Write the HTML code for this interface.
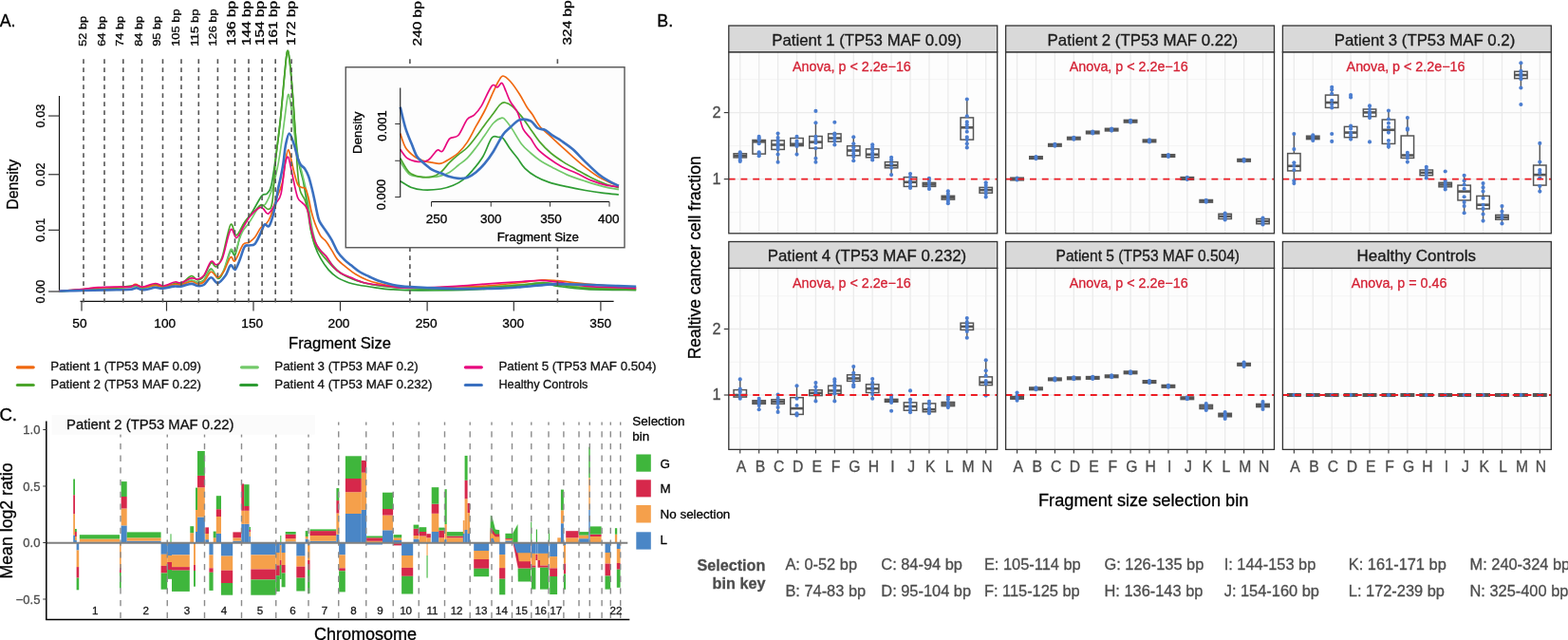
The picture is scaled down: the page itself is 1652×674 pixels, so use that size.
<!DOCTYPE html>
<html><head><meta charset="utf-8"><title>Figure</title>
<style>
html,body{margin:0;padding:0;background:#fff;}
svg{display:block;}
text{font-family:'Liberation Sans', Arial, Helvetica, sans-serif;}
</style></head><body>
<svg width="1652" height="674" viewBox="0 0 1652 674">
<rect x="0" y="0" width="1652" height="674" fill="#fff"/>
<text x="-0.3" y="27.6" font-size="17.8" stroke="#000" stroke-width="0.3">A.</text>
<text transform="translate(91 48.8) rotate(-90)" font-size="11.8" font-family="'DejaVu Sans', Verdana, sans-serif" stroke="#000" stroke-width="0.3" textLength="31.9" lengthAdjust="spacingAndGlyphs">52 bp</text>
<text transform="translate(110.6 48.8) rotate(-90)" font-size="11.8" font-family="'DejaVu Sans', Verdana, sans-serif" stroke="#000" stroke-width="0.3" textLength="31.9" lengthAdjust="spacingAndGlyphs">64 bp</text>
<text transform="translate(129.75 48.8) rotate(-90)" font-size="11.8" font-family="'DejaVu Sans', Verdana, sans-serif" stroke="#000" stroke-width="0.3" textLength="31.9" lengthAdjust="spacingAndGlyphs">74 bp</text>
<text transform="translate(149.8 48.8) rotate(-90)" font-size="11.8" font-family="'DejaVu Sans', Verdana, sans-serif" stroke="#000" stroke-width="0.3" textLength="31.9" lengthAdjust="spacingAndGlyphs">84 bp</text>
<text transform="translate(169.4 48.8) rotate(-90)" font-size="11.8" font-family="'DejaVu Sans', Verdana, sans-serif" stroke="#000" stroke-width="0.3" textLength="31.9" lengthAdjust="spacingAndGlyphs">95 bp</text>
<text transform="translate(188.9 48.8) rotate(-90)" font-size="11.8" font-family="'DejaVu Sans', Verdana, sans-serif" stroke="#000" stroke-width="0.3" textLength="39.4" lengthAdjust="spacingAndGlyphs">105 bp</text>
<text transform="translate(208.8 48.8) rotate(-90)" font-size="11.8" font-family="'DejaVu Sans', Verdana, sans-serif" stroke="#000" stroke-width="0.3" textLength="39.4" lengthAdjust="spacingAndGlyphs">115 bp</text>
<text transform="translate(228.4 48.6) rotate(-90)" font-size="11.8" font-family="'DejaVu Sans', Verdana, sans-serif" stroke="#000" stroke-width="0.3" textLength="39.2" lengthAdjust="spacingAndGlyphs">126 bp</text>
<text transform="translate(248 48.1) rotate(-90)" font-size="12.3" font-family="'DejaVu Sans', Verdana, sans-serif" stroke="#000" stroke-width="0.3" textLength="47.2" lengthAdjust="spacingAndGlyphs">136 bp</text>
<text transform="translate(264.4 48.1) rotate(-90)" font-size="12.3" font-family="'DejaVu Sans', Verdana, sans-serif" stroke="#000" stroke-width="0.3" textLength="47.2" lengthAdjust="spacingAndGlyphs">144 bp</text>
<text transform="translate(278 48.1) rotate(-90)" font-size="12.3" font-family="'DejaVu Sans', Verdana, sans-serif" stroke="#000" stroke-width="0.3" textLength="47.2" lengthAdjust="spacingAndGlyphs">154 bp</text>
<text transform="translate(291.8 48.1) rotate(-90)" font-size="12.3" font-family="'DejaVu Sans', Verdana, sans-serif" stroke="#000" stroke-width="0.3" textLength="47.2" lengthAdjust="spacingAndGlyphs">161 bp</text>
<text transform="translate(311.2 48.1) rotate(-90)" font-size="12.3" font-family="'DejaVu Sans', Verdana, sans-serif" stroke="#000" stroke-width="0.3" textLength="47.2" lengthAdjust="spacingAndGlyphs">172 bp</text>
<text transform="translate(443.6 48.4) rotate(-90)" font-size="12.3" font-family="'DejaVu Sans', Verdana, sans-serif" stroke="#000" stroke-width="0.3" textLength="47.2" lengthAdjust="spacingAndGlyphs">240 bp</text>
<text transform="translate(602.2 47.5) rotate(-90)" font-size="12.3" font-family="'DejaVu Sans', Verdana, sans-serif" stroke="#000" stroke-width="0.3" textLength="47.2" lengthAdjust="spacingAndGlyphs">324 bp</text>
<line x1="62.5" y1="101" x2="62.5" y2="307.6" stroke="#111" stroke-width="1.2" />
<line x1="51" y1="307" x2="62.5" y2="307" stroke="#333" stroke-width="1.2" />
<text transform="translate(47.1 307) rotate(-90)" font-size="12.8" text-anchor="middle" stroke="#000" stroke-width="0.3">0.00</text>
<line x1="51" y1="242.3" x2="62.5" y2="242.3" stroke="#333" stroke-width="1.2" />
<text transform="translate(47.1 242.3) rotate(-90)" font-size="12.8" text-anchor="middle" stroke="#000" stroke-width="0.3">0.01</text>
<line x1="51" y1="183.75" x2="62.5" y2="183.75" stroke="#333" stroke-width="1.2" />
<text transform="translate(47.1 183.75) rotate(-90)" font-size="12.8" text-anchor="middle" stroke="#000" stroke-width="0.3">0.02</text>
<line x1="51" y1="122.05" x2="62.5" y2="122.05" stroke="#333" stroke-width="1.2" />
<text transform="translate(47.1 122.05) rotate(-90)" font-size="12.8" text-anchor="middle" stroke="#000" stroke-width="0.3">0.03</text>
<text transform="translate(19 194.3) rotate(-90)" font-size="15.9" text-anchor="middle" stroke="#000" stroke-width="0.3">Density</text>
<line x1="84.5" y1="317.3" x2="646.6" y2="317.3" stroke="#111" stroke-width="1.2" />
<line x1="86" y1="317.3" x2="86" y2="327.5" stroke="#333" stroke-width="1.2" />
<text x="83.9" y="344.6" font-size="13.7" text-anchor="middle" stroke="#000" stroke-width="0.3">50</text>
<line x1="175.5" y1="317.3" x2="175.5" y2="327.5" stroke="#333" stroke-width="1.2" />
<text x="173.7" y="344.6" font-size="13.7" text-anchor="middle" stroke="#000" stroke-width="0.3">100</text>
<line x1="267" y1="317.3" x2="267" y2="327.5" stroke="#333" stroke-width="1.2" />
<text x="265.7" y="344.6" font-size="13.7" text-anchor="middle" stroke="#000" stroke-width="0.3">150</text>
<line x1="358.5" y1="317.3" x2="358.5" y2="327.5" stroke="#333" stroke-width="1.2" />
<text x="357" y="344.6" font-size="13.7" text-anchor="middle" stroke="#000" stroke-width="0.3">200</text>
<line x1="450.1" y1="317.3" x2="450.1" y2="327.5" stroke="#333" stroke-width="1.2" />
<text x="449.1" y="344.6" font-size="13.7" text-anchor="middle" stroke="#000" stroke-width="0.3">250</text>
<line x1="541.3" y1="317.3" x2="541.3" y2="327.5" stroke="#333" stroke-width="1.2" />
<text x="540.7" y="344.6" font-size="13.7" text-anchor="middle" stroke="#000" stroke-width="0.3">300</text>
<line x1="632.9" y1="317.3" x2="632.9" y2="327.5" stroke="#333" stroke-width="1.2" />
<text x="632.7" y="344.6" font-size="13.7" text-anchor="middle" stroke="#000" stroke-width="0.3">350</text>
<text x="304.1" y="366.6" font-size="16.6" stroke="#000" stroke-width="0.3">Fragment Size</text>
<line x1="18.4" y1="386.8" x2="35.2" y2="386.8" stroke="#f0680f" stroke-width="3.2" stroke-linecap="round"/>
<text x="53.25" y="390" font-size="13.35" fill="#111" stroke="#111" stroke-width="0.3">Patient 1 (TP53 MAF 0.09)</text>
<line x1="18.4" y1="405.5" x2="35.2" y2="405.5" stroke="#4ca52c" stroke-width="3.2" stroke-linecap="round"/>
<text x="53.25" y="408.7" font-size="13.35" fill="#111" stroke="#111" stroke-width="0.3">Patient 2 (TP53 MAF 0.22)</text>
<line x1="254.5" y1="386.8" x2="271.3" y2="386.8" stroke="#73c96a" stroke-width="3.2" stroke-linecap="round"/>
<text x="289.3" y="390" font-size="13.35" fill="#111" stroke="#111" stroke-width="0.3">Patient 3 (TP53 MAF 0.2)</text>
<line x1="253.7" y1="405.5" x2="270.5" y2="405.5" stroke="#2e9c33" stroke-width="3.2" stroke-linecap="round"/>
<text x="289.3" y="408.7" font-size="13.35" fill="#111" stroke="#111" stroke-width="0.3">Patient 4 (TP53 MAF 0.232)</text>
<line x1="490.4" y1="386.8" x2="507.3" y2="386.8" stroke="#e8087e" stroke-width="3.2" stroke-linecap="round"/>
<text x="525.4" y="390" font-size="13.35" fill="#111" stroke="#111" stroke-width="0.3">Patient 5 (TP53 MAF 0.504)</text>
<line x1="490.4" y1="405.5" x2="507.3" y2="405.5" stroke="#3a70c0" stroke-width="3.2" stroke-linecap="round"/>
<text x="525.4" y="408.7" font-size="13.35" fill="#111" stroke="#111" stroke-width="0.3" textLength="94" lengthAdjust="spacingAndGlyphs">Healthy Controls</text>
<path d="M62.5 306.8C66.58 306.58 78.33 305.88 87 305.5C95.67 305.12 105.2 305.17 114.5 304.5C123.8 303.83 136.82 301.67 142.8 301.5C148.78 301.33 146.95 303.67 150.4 303.5C153.85 303.33 159.87 300.67 163.5 300.5C167.13 300.33 168.75 302.67 172.2 302.5C175.65 302.33 181.12 300 184.2 299.5C187.28 299 187.8 300.17 190.7 299.5C193.6 298.83 198.68 295.83 201.6 295.5C204.52 295.17 206.02 297.58 208.2 297.5C210.38 297.42 212.35 297.42 214.7 295C217.05 292.58 219.8 283.27 222.3 283C224.8 282.73 227.43 293.07 229.7 293.4C231.97 293.73 233.7 289.8 235.9 285C238.1 280.2 240.95 267.35 242.9 264.6C244.85 261.85 246.05 270.7 247.6 268.5C249.15 266.3 250.77 256.65 252.2 251.4C253.63 246.15 253.97 241.65 256.2 237C258.43 232.35 262.35 228.6 265.6 223.5C268.85 218.4 273.1 209.65 275.7 206.4C278.3 203.15 279.52 205.82 281.2 204C282.88 202.18 284.25 201.87 285.8 195.5C287.35 189.13 288.93 177.02 290.5 165.8C292.07 154.58 293.7 142.17 295.2 128.2C296.7 114.23 298.32 94.12 299.5 82C300.68 69.88 301.47 59.33 302.3 55.5C303.13 51.67 303.58 52.92 304.5 59C305.42 65.08 306.68 78.5 307.8 92C308.92 105.5 310.02 126.73 311.2 140C312.38 153.27 313.53 163.18 314.9 171.6C316.27 180.02 318.13 184.4 319.4 190.5C320.67 196.6 321.45 202.52 322.5 208.2C323.55 213.88 324.82 218.68 325.7 224.6C326.58 230.52 326.77 237.93 327.8 243.7C328.83 249.47 330.23 254.45 331.9 259.2C333.57 263.95 335.43 268.05 337.8 272.2C340.17 276.35 343.13 280.73 346.1 284.1C349.07 287.47 352.03 290.13 355.6 292.4C359.17 294.67 363.93 296.43 367.5 297.7C371.07 298.97 372.42 299.15 377 300C381.58 300.85 389.2 302 395 302.8C400.8 303.6 404.3 304.28 411.8 304.8C419.3 305.32 425.3 305.87 440 305.9C454.7 305.93 483 305.75 500 305C517 304.25 529.92 302.47 542 301.4C554.08 300.33 564.87 298.6 572.5 298.6C580.13 298.6 580.17 300.38 587.8 301.4C595.43 302.42 604.57 304 618.3 304.7C632.03 305.4 661.55 305.45 670.2 305.6" fill="none" stroke="#2e9c33" stroke-width="1.7" stroke-linejoin="round"/>
<path d="M62.5 306.8C66.58 306.57 78.33 305.8 87 305.4C95.67 305 105.2 305.1 114.5 304.4C123.8 303.7 136.82 301.38 142.8 301.2C148.78 301.02 146.95 303.43 150.4 303.3C153.85 303.17 159.87 300.57 163.5 300.4C167.13 300.23 168.75 302.48 172.2 302.3C175.65 302.12 181.12 299.77 184.2 299.3C187.28 298.83 187.8 300.22 190.7 299.5C193.6 298.78 198.68 295.28 201.6 295C204.52 294.72 206.02 297.72 208.2 297.8C210.38 297.88 212.35 297.8 214.7 295.5C217.05 293.2 219.8 284.5 222.3 284C224.8 283.5 227.43 292.5 229.7 292.5C231.97 292.5 233.7 288.92 235.9 284C238.1 279.08 240.95 266 242.9 263C244.85 260 246.05 267.83 247.6 266C249.15 264.17 250.8 255.83 252.2 252C253.6 248.17 254.28 245.93 256 243C257.72 240.07 259.6 238.68 262.5 234.4C265.4 230.12 270.55 220.55 273.4 217.3C276.25 214.05 277.27 218.28 279.6 214.9C281.93 211.52 285.18 203.88 287.4 197C289.62 190.12 291.33 181.65 292.9 173.6C294.47 165.55 295.63 156.8 296.8 148.7C297.97 140.6 298.82 133.03 299.9 125C300.98 116.97 302.37 103.83 303.3 100.5C304.23 97.17 304.75 101.63 305.5 105C306.25 108.37 306.57 111.37 307.8 120.7C309.03 130.03 311.18 150.83 312.9 161C314.62 171.17 316.4 174.68 318.1 181.7C319.8 188.72 321.73 195.95 323.1 203.1C324.47 210.25 325.23 217.83 326.3 224.6C327.37 231.37 328.18 237.93 329.5 243.7C330.82 249.47 332.22 255.23 334.2 259.2C336.18 263.17 338.82 264.33 341.4 267.5C343.98 270.67 346.73 274.83 349.7 278.2C352.67 281.57 355.65 285.13 359.2 287.7C362.75 290.27 366.65 291.83 371 293.6C375.35 295.37 380.47 297.07 385.3 298.3C390.13 299.53 392.72 300.1 400 301C407.28 301.9 417.33 303.17 429 303.7C440.67 304.23 456.25 304.45 470 304.2C483.75 303.95 498.22 302.97 511.5 302.2C524.78 301.43 539.53 300.37 549.7 299.6C559.87 298.83 566.15 297.63 572.5 297.6C578.85 297.57 580.17 298.57 587.8 299.4C595.43 300.23 604.57 301.78 618.3 302.6C632.03 303.42 661.55 304.02 670.2 304.3" fill="none" stroke="#73c96a" stroke-width="1.7" stroke-linejoin="round"/>
<path d="M62.5 306.8C66.58 306.53 78.33 305.67 87 305.2C95.67 304.73 105.2 304.78 114.5 304C123.8 303.22 136.82 300.7 142.8 300.5C148.78 300.3 146.95 302.97 150.4 302.8C153.85 302.63 159.87 299.67 163.5 299.5C167.13 299.33 168.75 301.97 172.2 301.8C175.65 301.63 181.12 299 184.2 298.5C187.28 298 187.8 300.1 190.7 298.8C193.6 297.5 198.68 291.33 201.6 290.7C204.52 290.07 206.02 294.95 208.2 295C210.38 295.05 212.35 294 214.7 291C217.05 288 220.12 278.68 222.3 277C224.48 275.32 225.8 282.07 227.8 280.9C229.8 279.73 231.78 277.38 234.3 270C236.82 262.62 240.45 240.27 242.9 236.6C245.35 232.93 246.53 248.43 249 248C251.47 247.57 254.42 238.35 257.7 234C260.98 229.65 265.7 224.95 268.7 221.9C271.7 218.85 273.37 215.95 275.7 215.7C278.03 215.45 280.82 221.02 282.7 220.4C284.58 219.78 285.7 220.73 287 212C288.3 203.27 289.13 181.97 290.5 168C291.87 154.03 293.7 142.53 295.2 128.2C296.7 113.87 298.32 94.12 299.5 82C300.68 69.88 301.47 59.33 302.3 55.5C303.13 51.67 303.58 52.92 304.5 59C305.42 65.08 306.68 78.5 307.8 92C308.92 105.5 310.25 125.33 311.2 140C312.15 154.67 312.67 169.9 313.5 180C314.33 190.1 314.9 195.48 316.2 200.6C317.5 205.72 319.92 206.8 321.3 210.7C322.68 214.6 323.55 219.12 324.5 224C325.45 228.88 325.83 234.58 327 240C328.17 245.42 329.67 252.08 331.5 256.5C333.33 260.92 335.58 263.25 338 266.5C340.42 269.75 343.17 272.92 346 276C348.83 279.08 351.5 282.33 355 285C358.5 287.67 362.33 289.87 367 292C371.67 294.13 377.5 296.3 383 297.8C388.5 299.3 392.33 300.05 400 301C407.67 301.95 417.33 303 429 303.5C440.67 304 456.25 304.17 470 304C483.75 303.83 498.22 303.17 511.5 302.5C524.78 301.83 539.53 300.78 549.7 300C559.87 299.22 566.15 297.83 572.5 297.8C578.85 297.77 580.17 298.87 587.8 299.8C595.43 300.73 604.57 302.57 618.3 303.4C632.03 304.23 661.55 304.57 670.2 304.8" fill="none" stroke="#4ca52c" stroke-width="1.7" stroke-linejoin="round"/>
<path d="M62.5 306.5C64.58 306.33 70.92 305.83 75 305.5C79.08 305.17 82.23 304.88 87 304.5C91.77 304.12 97.57 303.53 103.6 303.2C109.63 302.87 117.75 302.65 123.2 302.5C128.65 302.35 133.03 302.82 136.3 302.3C139.57 301.78 140.45 299.37 142.8 299.4C145.15 299.43 146.95 302.32 150.4 302.5C153.85 302.68 159.87 300.58 163.5 300.5C167.13 300.42 168.75 302.17 172.2 302C175.65 301.83 181.12 299.83 184.2 299.5C187.28 299.17 187.8 300.5 190.7 300C193.6 299.5 198.68 296.67 201.6 296.5C204.52 296.33 206.02 298.92 208.2 299C210.38 299.08 212.35 299.12 214.7 297C217.05 294.88 219.85 287.08 222.3 286.3C224.75 285.52 227.13 292.42 229.4 292.3C231.67 292.18 233.65 289.18 235.9 285.6C238.15 282.02 240.95 272.62 242.9 270.8C244.85 268.98 245.4 276.9 247.6 274.7C249.8 272.5 253.63 260.83 256.1 257.6C258.57 254.37 260.32 256.6 262.4 255.3C264.48 254 266.53 252.4 268.6 249.8C270.67 247.2 272.73 242.17 274.8 239.7C276.87 237.23 279.3 236.95 281 235C282.7 233.05 283.42 232 285 228C286.58 224 288.45 216.83 290.5 211C292.55 205.17 295.55 200.2 297.3 193C299.05 185.8 299.92 173.68 301 167.8C302.08 161.92 302.85 157.7 303.8 157.7C304.75 157.7 305.68 163.8 306.7 167.8C307.72 171.8 308.73 177.28 309.9 181.7C311.07 186.12 312.33 191.68 313.7 194.3C315.07 196.92 316.73 196.67 318.1 197.4C319.47 198.13 320.75 196.9 321.9 198.7C323.05 200.5 323.95 204.1 325 208.2C326.05 212.3 327.05 218.77 328.2 223.3C329.35 227.83 330.3 231.2 331.9 235.4C333.5 239.6 335.83 245.33 337.8 248.5C339.77 251.67 341.72 251.83 343.7 254.4C345.68 256.97 347.72 260.73 349.7 263.9C351.68 267.07 353.03 270.43 355.6 273.4C358.17 276.37 361.93 279.13 365.1 281.7C368.27 284.27 371.03 286.62 374.6 288.8C378.17 290.98 382.55 293.22 386.5 294.8C390.45 296.38 392.65 297.07 398.3 298.3C403.95 299.53 411.78 301.42 420.4 302.2C429.02 302.98 439.9 303.03 450 303C460.1 302.97 470.75 302.33 481 302C491.25 301.67 500.05 301.75 511.5 301C522.95 300.25 539.78 298.53 549.7 297.5C559.62 296.47 564.65 295.1 571 294.8C577.35 294.5 579.92 294.98 587.8 295.7C595.68 296.42 604.57 297.9 618.3 299.1C632.03 300.3 661.55 302.27 670.2 302.9" fill="none" stroke="#f0680f" stroke-width="1.7" stroke-linejoin="round"/>
<path d="M62.5 306.5C66.58 306.18 80.15 305.23 87 304.6C93.85 303.97 97.57 303.12 103.6 302.7C109.63 302.28 117.75 302.2 123.2 302.1C128.65 302 133.03 302.45 136.3 302.1C139.57 301.75 140.45 300 142.8 300C145.15 300 146.95 302.35 150.4 302.1C153.85 301.85 159.87 298.68 163.5 298.5C167.13 298.32 168.75 301.25 172.2 301C175.65 300.75 181.12 297.53 184.2 297C187.28 296.47 187.8 298.48 190.7 297.8C193.6 297.12 198.68 293.53 201.6 292.9C204.52 292.27 206.02 294.45 208.2 294C210.38 293.55 212.35 293.3 214.7 290.2C217.05 287.1 220.12 277.32 222.3 275.4C224.48 273.48 225.8 279.23 227.8 278.7C229.8 278.17 231.78 278.32 234.3 272.2C236.82 266.08 240.43 245.6 242.9 242C245.37 238.4 246.9 250.98 249.1 250.6C251.3 250.22 253.63 243.6 256.1 239.7C258.57 235.8 261.02 230.68 263.9 227.2C266.78 223.72 271.13 220 273.4 218.8C275.67 217.6 275.95 218.95 277.5 220C279.05 221.05 280.53 226.07 282.7 225.1C284.87 224.13 288.28 217.65 290.5 214.2C292.72 210.75 294.35 211.3 296 204.4C297.65 197.5 299.13 179.32 300.4 172.8C301.67 166.28 302.55 164.45 303.6 165.3C304.65 166.15 305.65 173.28 306.7 177.9C307.75 182.52 308.73 187.95 309.9 193C311.07 198.05 312.33 204.83 313.7 208.2C315.07 211.57 316.73 211.73 318.1 213.2C319.47 214.67 320.75 215.1 321.9 217C323.05 218.9 324.13 221.13 325 224.6C325.87 228.07 325.95 232.83 327.1 237.8C328.25 242.77 330.12 250.05 331.9 254.4C333.68 258.75 335.83 261.32 337.8 263.9C339.77 266.48 341.52 267.13 343.7 269.9C345.88 272.67 348.32 277.53 350.9 280.5C353.48 283.47 356.03 285.72 359.2 287.7C362.37 289.68 366.15 290.82 369.9 292.4C373.65 293.98 377.75 296.02 381.7 297.2C385.65 298.38 390.02 298.95 393.6 299.5C397.18 300.05 398.8 299.93 403.2 300.5C407.6 301.07 412.12 302.5 420 302.9C427.88 303.3 440.33 303.15 450.5 302.9C460.67 302.65 470.83 302.03 481 301.4C491.17 300.77 500.05 299.92 511.5 299.1C522.95 298.28 540.03 297.13 549.7 296.5C559.37 295.87 563.15 295.2 569.5 295.3C575.85 295.4 579.67 296.08 587.8 297.1C595.93 298.12 604.57 300.32 618.3 301.4C632.03 302.48 661.55 303.23 670.2 303.6" fill="none" stroke="#e8087e" stroke-width="1.7" stroke-linejoin="round"/>
<path d="M62.5 306.5C66.58 306.42 78.33 306.18 87 306C95.67 305.82 107.38 305.53 114.5 305.4C121.62 305.27 125.62 305.33 129.7 305.2C133.78 305.07 136.63 304.93 139 304.6C141.37 304.27 142.18 303.1 143.9 303.2C145.62 303.3 147.28 304.98 149.3 305.2C151.32 305.42 153.63 304.92 156 304.5C158.37 304.08 160.98 302.82 163.5 302.7C166.02 302.58 167.83 303.98 171.1 303.8C174.37 303.62 179.83 301.97 183.1 301.6C186.37 301.23 187.62 302.05 190.7 301.6C193.78 301.15 198.68 299 201.6 298.9C204.52 298.8 206.02 300.82 208.2 301C210.38 301.18 212.35 301.45 214.7 300C217.05 298.55 219.85 292.62 222.3 292.3C224.75 291.98 226.87 298.43 229.4 298.1C231.93 297.77 235.25 293.42 237.5 290.3C239.75 287.18 241.22 280.45 242.9 279.4C244.58 278.35 246.05 284.78 247.6 284C249.15 283.22 250.52 278.72 252.2 274.7C253.88 270.68 256 262.62 257.7 259.9C259.4 257.18 260.58 258.92 262.4 258.4C264.22 257.88 266.53 259.02 268.6 256.8C270.67 254.58 273.12 248.47 274.8 245.1C276.48 241.73 277.27 237.77 278.7 236.6C280.13 235.43 281.97 239.53 283.4 238.1C284.83 236.67 286.13 232.02 287.3 228C288.47 223.98 289.45 218.83 290.4 214C291.35 209.17 292.07 203.75 293 199C293.93 194.25 295.08 190.07 296 185.5C296.92 180.93 297.67 177.08 298.5 171.6C299.33 166.12 299.95 157.77 301 152.6C302.05 147.43 303.32 140.6 304.8 140.6C306.28 140.6 308.42 148.28 309.9 152.6C311.38 156.92 312.55 163.02 313.7 166.5C314.85 169.98 315.53 171.6 316.8 173.5C318.07 175.4 319.93 175.9 321.3 177.9C322.67 179.9 323.85 182.35 325 185.5C326.15 188.65 327.13 192.6 328.2 196.8C329.27 201 330.45 206.28 331.4 210.7C332.35 215.12 333.03 219.57 333.9 223.3C334.77 227.03 334.97 229.7 336.6 233.1C338.23 236.5 341.52 240.35 343.7 243.7C345.88 247.05 347.72 249.63 349.7 253.2C351.68 256.77 353.43 261.73 355.6 265.1C357.77 268.47 360.32 271.03 362.7 273.4C365.08 275.77 367.13 277.12 369.9 279.3C372.67 281.48 376.15 284.52 379.3 286.5C382.45 288.48 385.63 289.72 388.8 291.2C391.97 292.68 393.38 293.78 398.3 295.4C403.22 297.02 412.65 299.78 418.3 300.9C423.95 302.02 424.28 301.65 432.2 302.1C440.12 302.55 455.12 303.27 465.8 303.6C476.48 303.93 486.13 304.1 496.3 304.1C506.47 304.1 517.9 303.93 526.8 303.6C535.7 303.27 542.08 302.68 549.7 302.1C557.32 301.52 566.15 300.6 572.5 300.1C578.85 299.6 580.17 299.15 587.8 299.1C595.43 299.05 608.13 299.48 618.3 299.8C628.47 300.12 640.15 300.68 648.8 301C657.45 301.32 666.63 301.58 670.2 301.7" fill="none" stroke="#3a70c0" stroke-width="2.6" stroke-linejoin="round"/>
<line x1="88" y1="62.2" x2="88" y2="318.5" stroke="#555" stroke-width="1.6" stroke-dasharray="4.8 4.2"/>
<line x1="110" y1="62.2" x2="110" y2="318.5" stroke="#555" stroke-width="1.6" stroke-dasharray="4.8 4.2"/>
<line x1="129.8" y1="62.2" x2="129.8" y2="318.5" stroke="#555" stroke-width="1.6" stroke-dasharray="4.8 4.2"/>
<line x1="149.6" y1="62.2" x2="149.6" y2="318.5" stroke="#555" stroke-width="1.6" stroke-dasharray="4.8 4.2"/>
<line x1="171.5" y1="62.2" x2="171.5" y2="318.5" stroke="#555" stroke-width="1.6" stroke-dasharray="4.8 4.2"/>
<line x1="191" y1="62.2" x2="191" y2="318.5" stroke="#555" stroke-width="1.6" stroke-dasharray="4.8 4.2"/>
<line x1="209.3" y1="62.2" x2="209.3" y2="318.5" stroke="#555" stroke-width="1.6" stroke-dasharray="4.8 4.2"/>
<line x1="229.4" y1="62.2" x2="229.4" y2="318.5" stroke="#555" stroke-width="1.6" stroke-dasharray="4.8 4.2"/>
<line x1="247.5" y1="62.2" x2="247.5" y2="318.5" stroke="#555" stroke-width="1.6" stroke-dasharray="4.8 4.2"/>
<line x1="262" y1="62.2" x2="262" y2="318.5" stroke="#555" stroke-width="1.6" stroke-dasharray="4.8 4.2"/>
<line x1="276.1" y1="62.2" x2="276.1" y2="318.5" stroke="#555" stroke-width="1.6" stroke-dasharray="4.8 4.2"/>
<line x1="290.2" y1="62.2" x2="290.2" y2="318.5" stroke="#555" stroke-width="1.6" stroke-dasharray="4.8 4.2"/>
<line x1="307.1" y1="62.2" x2="307.1" y2="318.5" stroke="#555" stroke-width="1.6" stroke-dasharray="4.8 4.2"/>
<line x1="431.9" y1="62.2" x2="431.9" y2="318.5" stroke="#555" stroke-width="1.6" stroke-dasharray="4.8 4.2"/>
<line x1="587.4" y1="62.2" x2="587.4" y2="318.5" stroke="#555" stroke-width="1.6" stroke-dasharray="4.8 4.2"/>
<rect x="364.25" y="70.75" width="293.75" height="190" fill="#fdfdfd" stroke="#555" stroke-width="1.4" />
<path d="M421.7 190.7C423.55 191.78 428.78 195.65 432.8 197.2C436.82 198.75 440.53 199.7 445.8 200C451.07 200.3 459.15 199.78 464.4 199C469.65 198.22 473.28 197 477.3 195.3C481.32 193.6 485.1 191.42 488.5 188.8C491.9 186.18 494.3 183.62 497.7 179.6C501.1 175.58 505.5 170.42 508.9 164.7C512.3 158.98 515.42 148.67 518.1 145.3C520.78 141.93 523.02 144.45 525 144.5C526.98 144.55 527.88 143.5 530 145.6C532.12 147.7 535.13 153.57 537.7 157.1C540.27 160.63 542.83 163.42 545.4 166.8C547.97 170.18 549.88 174.18 553.1 177.4C556.32 180.62 560.52 183.68 564.7 186.1C568.88 188.52 572.73 190.13 578.2 191.9C583.67 193.67 591.07 195.27 597.5 196.7C603.93 198.13 610.37 199.38 616.8 200.5C623.23 201.62 630.25 202.65 636.1 203.4C641.95 204.15 649.27 204.73 651.9 205" fill="none" stroke="#2e9c33" stroke-width="1.7" stroke-linejoin="round"/>
<path d="M421.7 170.3C423.25 172.47 427.6 180.67 431 183.3C434.4 185.93 438.08 185.57 442.1 186.1C446.12 186.63 451.38 186.67 455.1 186.5C458.82 186.33 461.32 185.95 464.4 185.1C467.48 184.25 470.52 183.25 473.6 181.4C476.68 179.55 479.8 176.47 482.9 174C486 171.53 489.12 169.68 492.2 166.6C495.28 163.52 498.32 159.52 501.4 155.5C504.48 151.48 507.6 146.83 510.7 142.5C513.8 138.17 516.98 132.55 520 129.5C523.02 126.45 526.63 124.62 528.8 124.2C530.97 123.78 531.2 125.05 533 127C534.8 128.95 536.88 131.83 539.6 135.9C542.32 139.97 546.08 147.22 549.3 151.4C552.52 155.58 555.68 158.12 558.9 161C562.12 163.88 564.73 166.13 568.6 168.7C572.47 171.27 577.28 173.83 582.1 176.4C586.92 178.97 591.72 181.68 597.5 184.1C603.28 186.52 610.37 188.8 616.8 190.9C623.23 193 630.25 195.25 636.1 196.7C641.95 198.15 649.27 199.12 651.9 199.6" fill="none" stroke="#73c96a" stroke-width="1.7" stroke-linejoin="round"/>
<path d="M421.7 166.6C423.25 169.07 427.6 178.15 431 181.4C434.4 184.65 438.08 185.32 442.1 186.1C446.12 186.88 451.38 186.88 455.1 186.1C458.82 185.32 461.32 183.88 464.4 181.4C467.48 178.92 470.52 174.28 473.6 171.2C476.68 168.12 479.8 165.52 482.9 162.9C486 160.28 489.12 158.6 492.2 155.5C495.28 152.4 498.32 148.32 501.4 144.3C504.48 140.28 507.6 135.57 510.7 131.4C513.8 127.23 517.28 122.87 520 119.3C522.72 115.73 525 111.88 527 110C529 108.12 529.9 107.7 532 108C534.1 108.3 536.72 109.4 539.6 111.8C542.48 114.2 546.08 118.38 549.3 122.4C552.52 126.42 555.68 131.4 558.9 135.9C562.12 140.4 565.07 145.22 568.6 149.4C572.13 153.58 575.93 157.47 580.1 161C584.27 164.53 589.1 167.7 593.6 170.6C598.1 173.5 602.27 175.67 607.1 178.4C611.93 181.13 617.45 184.43 622.6 187C627.75 189.57 633.12 192.03 638 193.8C642.88 195.57 649.58 196.97 651.9 197.6" fill="none" stroke="#4ca52c" stroke-width="1.7" stroke-linejoin="round"/>
<path d="M421.7 140.6C422.63 143.08 424.83 151.48 427.3 155.5C429.77 159.52 433.42 162.38 436.5 164.7C439.58 167.02 442.7 168.32 445.8 169.4C448.9 170.48 452 170.73 455.1 171.2C458.2 171.67 461.32 172.82 464.4 172.2C467.48 171.58 470.52 169.37 473.6 167.5C476.68 165.63 479.8 163.93 482.9 161C486 158.07 489.12 154.53 492.2 149.9C495.28 145.27 498.32 138.77 501.4 133.2C504.48 127.63 507.6 122.68 510.7 116.5C513.8 110.32 517.53 101.35 520 96.1C522.47 90.85 523.83 87.68 525.5 85C527.17 82.32 527.97 79.87 530 80C532.03 80.13 534.8 82.58 537.7 85.8C540.6 89.02 544.5 94.8 547.4 99.3C550.3 103.8 552.85 109.27 555.1 112.8C557.35 116.33 558.65 117.13 560.9 120.5C563.15 123.87 565.4 129.15 568.6 133C571.8 136.85 576.25 140.05 580.1 143.6C583.95 147.15 587.83 150.75 591.7 154.3C595.57 157.85 599.12 161.22 603.3 164.9C607.48 168.58 612.3 172.87 616.8 176.4C621.3 179.93 626.12 183.52 630.3 186.1C634.48 188.68 638.3 190.3 641.9 191.9C645.5 193.5 650.23 195.07 651.9 195.7" fill="none" stroke="#f0680f" stroke-width="1.7" stroke-linejoin="round"/>
<path d="M421.7 157.3C422.93 158.85 426 164.43 429.1 166.6C432.2 168.77 436.58 170 440.3 170.3C444.02 170.6 448.02 170.42 451.4 168.4C454.78 166.38 458.13 159.73 460.6 158.2C463.07 156.67 464.03 161.2 466.2 159.2C468.37 157.2 470.82 148.98 473.6 146.2C476.38 143.42 479.8 145.9 482.9 142.5C486 139.1 489.42 129.35 492.2 125.8C494.98 122.25 497.13 123.52 499.6 121.2C502.07 118.88 503.92 117 507 111.9C510.08 106.8 515.27 93.92 518.1 90.6C520.93 87.28 522.22 92.52 524 92C525.78 91.48 527.3 86.83 528.8 87.5C530.3 88.17 531.52 92.75 533 96C534.48 99.25 535.63 103.23 537.7 107C539.77 110.77 543.15 113.78 545.4 118.6C547.65 123.42 548.95 131.4 551.2 135.9C553.45 140.4 556.33 142.07 558.9 145.6C561.47 149.13 563.38 153.57 566.6 157.1C569.82 160.63 574.02 163.73 578.2 166.8C582.38 169.87 586.88 172.93 591.7 175.5C596.52 178.07 601.95 179.8 607.1 182.2C612.25 184.6 617.45 187.8 622.6 189.9C627.75 192 633.12 193.67 638 194.8C642.88 195.93 649.58 196.38 651.9 196.7" fill="none" stroke="#e8087e" stroke-width="1.7" stroke-linejoin="round"/>
<path d="M421.7 112.8C422.63 116.52 425.28 128.6 427.3 135.1C429.32 141.6 431.8 146.87 433.8 151.8C435.8 156.73 437.3 161.47 439.3 164.7C441.3 167.93 443.17 168.88 445.8 171.2C448.43 173.52 452 176.75 455.1 178.6C458.2 180.45 461.32 181.05 464.4 182.3C467.48 183.55 470.52 185.17 473.6 186.1C476.68 187.03 479.8 187.75 482.9 187.9C486 188.05 489.12 188.08 492.2 187C495.28 185.92 498.32 183.87 501.4 181.4C504.48 178.93 507.6 175.9 510.7 172.2C513.8 168.5 516.78 164.28 520 159.2C523.22 154.12 527.05 145.9 530 141.7C532.95 137.5 534.8 136.57 537.7 134C540.6 131.43 543.87 127.42 547.4 126.3C550.93 125.18 555.7 125.85 558.9 127.3C562.1 128.75 564.02 133.4 566.6 135C569.18 136.6 571.82 135.62 574.4 136.9C576.98 138.18 579.22 140.77 582.1 142.7C584.98 144.63 588.17 146.1 591.7 148.5C595.23 150.9 599.12 153.42 603.3 157.1C607.48 160.78 612.3 166.25 616.8 170.6C621.3 174.95 626.12 179.82 630.3 183.2C634.48 186.58 638.3 188.82 641.9 190.9C645.5 192.98 650.23 194.9 651.9 195.7" fill="none" stroke="#3a70c0" stroke-width="2.6" stroke-linejoin="round"/>
<line x1="421.75" y1="92.5" x2="421.75" y2="207.9" stroke="#000" stroke-width="1" />
<line x1="416.2" y1="207.5" x2="421.75" y2="207.5" stroke="#333" stroke-width="1" />
<line x1="416.2" y1="169.25" x2="421.75" y2="169.25" stroke="#333" stroke-width="1" />
<line x1="416.2" y1="130.5" x2="421.75" y2="130.5" stroke="#333" stroke-width="1" />
<text transform="translate(406.3 205) rotate(-90)" font-size="13" text-anchor="middle" stroke="#000" stroke-width="0.3">0.000</text>
<text transform="translate(406.8 132.5) rotate(-90)" font-size="13" text-anchor="middle" stroke="#000" stroke-width="0.3">0.001</text>
<text transform="translate(381.2 139.7) rotate(-90)" font-size="13.35" text-anchor="middle" stroke="#000" stroke-width="0.3">Density</text>
<line x1="454.5" y1="212.5" x2="642" y2="212.5" stroke="#000" stroke-width="1" />
<line x1="454.5" y1="212.5" x2="454.5" y2="217.6" stroke="#333" stroke-width="1" />
<text x="460" y="234.5" font-size="13.5" text-anchor="middle" stroke="#000" stroke-width="0.3">250</text>
<line x1="517.25" y1="212.5" x2="517.25" y2="217.6" stroke="#333" stroke-width="1" />
<text x="517.25" y="234.5" font-size="13.5" text-anchor="middle" stroke="#000" stroke-width="0.3">300</text>
<line x1="579.5" y1="212.5" x2="579.5" y2="217.6" stroke="#333" stroke-width="1" />
<text x="580.5" y="234.5" font-size="13.5" text-anchor="middle" stroke="#000" stroke-width="0.3">350</text>
<line x1="642" y1="212.5" x2="642" y2="217.6" stroke="#333" stroke-width="1" />
<text x="641.3" y="234.5" font-size="13.5" text-anchor="middle" stroke="#000" stroke-width="0.3">400</text>
<text x="523.75" y="253.75" font-size="13.25" stroke="#000" stroke-width="0.3">Fragment Size</text>
<rect x="767.8" y="54.8" width="282.9" height="191" fill="#fdfdfd" />
<line x1="767.8" y1="223.6" x2="1050.7" y2="223.6" stroke="#f0f0f0" stroke-width="0.7" />
<line x1="767.8" y1="153.6" x2="1050.7" y2="153.6" stroke="#f0f0f0" stroke-width="0.7" />
<line x1="767.8" y1="83.6" x2="1050.7" y2="83.6" stroke="#f0f0f0" stroke-width="0.7" />
<line x1="767.8" y1="188.6" x2="1050.7" y2="188.6" stroke="#ebebeb" stroke-width="1.3" />
<line x1="767.8" y1="118.6" x2="1050.7" y2="118.6" stroke="#ebebeb" stroke-width="1.3" />
<line x1="779.75" y1="54.8" x2="779.75" y2="245.8" stroke="#ebebeb" stroke-width="1.3" />
<line x1="799.67" y1="54.8" x2="799.67" y2="245.8" stroke="#ebebeb" stroke-width="1.3" />
<line x1="819.59" y1="54.8" x2="819.59" y2="245.8" stroke="#ebebeb" stroke-width="1.3" />
<line x1="839.51" y1="54.8" x2="839.51" y2="245.8" stroke="#ebebeb" stroke-width="1.3" />
<line x1="859.43" y1="54.8" x2="859.43" y2="245.8" stroke="#ebebeb" stroke-width="1.3" />
<line x1="879.35" y1="54.8" x2="879.35" y2="245.8" stroke="#ebebeb" stroke-width="1.3" />
<line x1="899.27" y1="54.8" x2="899.27" y2="245.8" stroke="#ebebeb" stroke-width="1.3" />
<line x1="919.19" y1="54.8" x2="919.19" y2="245.8" stroke="#ebebeb" stroke-width="1.3" />
<line x1="939.11" y1="54.8" x2="939.11" y2="245.8" stroke="#ebebeb" stroke-width="1.3" />
<line x1="959.03" y1="54.8" x2="959.03" y2="245.8" stroke="#ebebeb" stroke-width="1.3" />
<line x1="978.95" y1="54.8" x2="978.95" y2="245.8" stroke="#ebebeb" stroke-width="1.3" />
<line x1="998.87" y1="54.8" x2="998.87" y2="245.8" stroke="#ebebeb" stroke-width="1.3" />
<line x1="1018.79" y1="54.8" x2="1018.79" y2="245.8" stroke="#ebebeb" stroke-width="1.3" />
<line x1="1038.71" y1="54.8" x2="1038.71" y2="245.8" stroke="#ebebeb" stroke-width="1.3" />
<line x1="779.75" y1="160.5" x2="779.75" y2="161.8" stroke="#555555" stroke-width="1.4" />
<line x1="779.75" y1="165.9" x2="779.75" y2="167" stroke="#555555" stroke-width="1.4" />
<rect x="773.05" y="161.8" width="13.4" height="4.1" fill="#fff" stroke="#555555" stroke-width="1.5" />
<line x1="773.05" y1="164" x2="786.45" y2="164" stroke="#555555" stroke-width="2.6" />
<line x1="799.67" y1="143.9" x2="799.67" y2="147.5" stroke="#555555" stroke-width="1.4" />
<line x1="799.67" y1="162.1" x2="799.67" y2="164.3" stroke="#555555" stroke-width="1.4" />
<rect x="792.97" y="147.5" width="13.4" height="14.6" fill="#fff" stroke="#555555" stroke-width="1.5" />
<line x1="792.97" y1="149.3" x2="806.37" y2="149.3" stroke="#555555" stroke-width="2.6" />
<line x1="819.59" y1="140.6" x2="819.59" y2="147.9" stroke="#555555" stroke-width="1.4" />
<line x1="819.59" y1="157.4" x2="819.59" y2="170.8" stroke="#555555" stroke-width="1.4" />
<rect x="812.89" y="147.9" width="13.4" height="9.5" fill="#fff" stroke="#555555" stroke-width="1.5" />
<line x1="812.89" y1="152.5" x2="826.29" y2="152.5" stroke="#555555" stroke-width="2.6" />
<line x1="839.51" y1="143.9" x2="839.51" y2="145.5" stroke="#555555" stroke-width="1.4" />
<line x1="839.51" y1="153.6" x2="839.51" y2="162.6" stroke="#555555" stroke-width="1.4" />
<rect x="832.81" y="145.5" width="13.4" height="8.1" fill="#fff" stroke="#555555" stroke-width="1.5" />
<line x1="832.81" y1="151.7" x2="846.21" y2="151.7" stroke="#555555" stroke-width="2.6" />
<line x1="859.43" y1="129.2" x2="859.43" y2="143.5" stroke="#555555" stroke-width="1.4" />
<line x1="859.43" y1="156.1" x2="859.43" y2="170.8" stroke="#555555" stroke-width="1.4" />
<rect x="852.73" y="143.5" width="13.4" height="12.6" fill="#fff" stroke="#555555" stroke-width="1.5" />
<line x1="852.73" y1="149.6" x2="866.13" y2="149.6" stroke="#555555" stroke-width="2.6" />
<line x1="879.35" y1="140" x2="879.35" y2="140.9" stroke="#555555" stroke-width="1.4" />
<line x1="879.35" y1="149.1" x2="879.35" y2="152.5" stroke="#555555" stroke-width="1.4" />
<rect x="872.65" y="140.9" width="13.4" height="8.2" fill="#fff" stroke="#555555" stroke-width="1.5" />
<line x1="872.65" y1="145.5" x2="886.05" y2="145.5" stroke="#555555" stroke-width="2.6" />
<line x1="899.27" y1="144.2" x2="899.27" y2="153.7" stroke="#555555" stroke-width="1.4" />
<line x1="899.27" y1="163.8" x2="899.27" y2="169.2" stroke="#555555" stroke-width="1.4" />
<rect x="892.57" y="153.7" width="13.4" height="10.1" fill="#fff" stroke="#555555" stroke-width="1.5" />
<line x1="892.57" y1="158.5" x2="905.97" y2="158.5" stroke="#555555" stroke-width="2.6" />
<line x1="919.19" y1="152.3" x2="919.19" y2="156.9" stroke="#555555" stroke-width="1.4" />
<line x1="919.19" y1="165.8" x2="919.19" y2="168.5" stroke="#555555" stroke-width="1.4" />
<rect x="912.49" y="156.9" width="13.4" height="8.9" fill="#fff" stroke="#555555" stroke-width="1.5" />
<line x1="912.49" y1="162.7" x2="925.89" y2="162.7" stroke="#555555" stroke-width="2.6" />
<line x1="939.11" y1="165.8" x2="939.11" y2="170.6" stroke="#555555" stroke-width="1.4" />
<line x1="939.11" y1="176.8" x2="939.11" y2="184.1" stroke="#555555" stroke-width="1.4" />
<rect x="932.41" y="170.6" width="13.4" height="6.2" fill="#fff" stroke="#555555" stroke-width="1.5" />
<line x1="932.41" y1="174.1" x2="945.81" y2="174.1" stroke="#555555" stroke-width="2.6" />
<line x1="959.03" y1="183.1" x2="959.03" y2="186.6" stroke="#555555" stroke-width="1.4" />
<line x1="959.03" y1="196.4" x2="959.03" y2="198" stroke="#555555" stroke-width="1.4" />
<rect x="952.33" y="186.6" width="13.4" height="9.8" fill="#fff" stroke="#555555" stroke-width="1.5" />
<line x1="952.33" y1="191.8" x2="965.73" y2="191.8" stroke="#555555" stroke-width="2.6" />
<line x1="978.95" y1="187.7" x2="978.95" y2="192.4" stroke="#555555" stroke-width="1.4" />
<line x1="978.95" y1="196.4" x2="978.95" y2="199" stroke="#555555" stroke-width="1.4" />
<rect x="972.25" y="192.4" width="13.4" height="4" fill="#fff" stroke="#555555" stroke-width="1.5" />
<line x1="972.25" y1="194.4" x2="985.65" y2="194.4" stroke="#555555" stroke-width="2.6" />
<line x1="998.87" y1="201.2" x2="998.87" y2="206.3" stroke="#555555" stroke-width="1.4" />
<line x1="998.87" y1="210.1" x2="998.87" y2="214.2" stroke="#555555" stroke-width="1.4" />
<rect x="992.17" y="206.3" width="13.4" height="3.8" fill="#fff" stroke="#555555" stroke-width="1.5" />
<line x1="992.17" y1="208.2" x2="1005.57" y2="208.2" stroke="#555555" stroke-width="2.6" />
<line x1="1018.79" y1="104.5" x2="1018.79" y2="123.9" stroke="#555555" stroke-width="1.4" />
<line x1="1018.79" y1="147.1" x2="1018.79" y2="155.4" stroke="#555555" stroke-width="1.4" />
<rect x="1012.09" y="123.9" width="13.4" height="23.2" fill="#fff" stroke="#555555" stroke-width="1.5" />
<line x1="1012.09" y1="134.3" x2="1025.49" y2="134.3" stroke="#555555" stroke-width="2.6" />
<line x1="1038.71" y1="192.2" x2="1038.71" y2="197.4" stroke="#555555" stroke-width="1.4" />
<line x1="1038.71" y1="203.2" x2="1038.71" y2="207.4" stroke="#555555" stroke-width="1.4" />
<rect x="1032.01" y="197.4" width="13.4" height="5.8" fill="#fff" stroke="#555555" stroke-width="1.5" />
<line x1="1032.01" y1="200.1" x2="1045.41" y2="200.1" stroke="#555555" stroke-width="2.6" />
<circle cx="779.75" cy="160.2" r="2.05" fill="#4b7dcf"/>
<circle cx="779.75" cy="162" r="2.05" fill="#4b7dcf"/>
<circle cx="779.75" cy="164" r="2.05" fill="#4b7dcf"/>
<circle cx="779.75" cy="166" r="2.05" fill="#4b7dcf"/>
<circle cx="779.75" cy="168.5" r="2.05" fill="#4b7dcf"/>
<circle cx="779.75" cy="170" r="2.05" fill="#4b7dcf"/>
<circle cx="799.67" cy="143.9" r="2.05" fill="#4b7dcf"/>
<circle cx="799.67" cy="145.5" r="2.05" fill="#4b7dcf"/>
<circle cx="799.67" cy="147.5" r="2.05" fill="#4b7dcf"/>
<circle cx="799.67" cy="151.2" r="2.05" fill="#4b7dcf"/>
<circle cx="799.67" cy="160.2" r="2.05" fill="#4b7dcf"/>
<circle cx="799.67" cy="162.5" r="2.05" fill="#4b7dcf"/>
<circle cx="799.67" cy="164.3" r="2.05" fill="#4b7dcf"/>
<circle cx="819.59" cy="140.6" r="2.05" fill="#4b7dcf"/>
<circle cx="819.59" cy="145" r="2.05" fill="#4b7dcf"/>
<circle cx="819.59" cy="147.9" r="2.05" fill="#4b7dcf"/>
<circle cx="819.59" cy="150" r="2.05" fill="#4b7dcf"/>
<circle cx="819.59" cy="152.5" r="2.05" fill="#4b7dcf"/>
<circle cx="819.59" cy="155" r="2.05" fill="#4b7dcf"/>
<circle cx="819.59" cy="157.4" r="2.05" fill="#4b7dcf"/>
<circle cx="819.59" cy="162.6" r="2.05" fill="#4b7dcf"/>
<circle cx="819.59" cy="170.8" r="2.05" fill="#4b7dcf"/>
<circle cx="839.51" cy="143.9" r="2.05" fill="#4b7dcf"/>
<circle cx="839.51" cy="148.5" r="2.05" fill="#4b7dcf"/>
<circle cx="839.51" cy="150.5" r="2.05" fill="#4b7dcf"/>
<circle cx="839.51" cy="152.5" r="2.05" fill="#4b7dcf"/>
<circle cx="839.51" cy="154" r="2.05" fill="#4b7dcf"/>
<circle cx="839.51" cy="162.6" r="2.05" fill="#4b7dcf"/>
<circle cx="859.43" cy="116.9" r="2.05" fill="#4b7dcf"/>
<circle cx="859.43" cy="129.2" r="2.05" fill="#4b7dcf"/>
<circle cx="859.43" cy="143.9" r="2.05" fill="#4b7dcf"/>
<circle cx="859.43" cy="147" r="2.05" fill="#4b7dcf"/>
<circle cx="859.43" cy="150.5" r="2.05" fill="#4b7dcf"/>
<circle cx="859.43" cy="156.1" r="2.05" fill="#4b7dcf"/>
<circle cx="859.43" cy="166.7" r="2.05" fill="#4b7dcf"/>
<circle cx="859.43" cy="170.8" r="2.05" fill="#4b7dcf"/>
<circle cx="879.35" cy="128.7" r="2.05" fill="#4b7dcf"/>
<circle cx="879.35" cy="140.6" r="2.05" fill="#4b7dcf"/>
<circle cx="879.35" cy="142.3" r="2.05" fill="#4b7dcf"/>
<circle cx="879.35" cy="145.5" r="2.05" fill="#4b7dcf"/>
<circle cx="879.35" cy="148.7" r="2.05" fill="#4b7dcf"/>
<circle cx="879.35" cy="152.5" r="2.05" fill="#4b7dcf"/>
<circle cx="899.27" cy="144.2" r="2.05" fill="#4b7dcf"/>
<circle cx="899.27" cy="151.2" r="2.05" fill="#4b7dcf"/>
<circle cx="899.27" cy="155.3" r="2.05" fill="#4b7dcf"/>
<circle cx="899.27" cy="158.5" r="2.05" fill="#4b7dcf"/>
<circle cx="899.27" cy="161.8" r="2.05" fill="#4b7dcf"/>
<circle cx="899.27" cy="165.1" r="2.05" fill="#4b7dcf"/>
<circle cx="899.27" cy="169.2" r="2.05" fill="#4b7dcf"/>
<circle cx="919.19" cy="152.3" r="2.05" fill="#4b7dcf"/>
<circle cx="919.19" cy="155" r="2.05" fill="#4b7dcf"/>
<circle cx="919.19" cy="158" r="2.05" fill="#4b7dcf"/>
<circle cx="919.19" cy="161" r="2.05" fill="#4b7dcf"/>
<circle cx="919.19" cy="163.5" r="2.05" fill="#4b7dcf"/>
<circle cx="919.19" cy="166" r="2.05" fill="#4b7dcf"/>
<circle cx="919.19" cy="168.5" r="2.05" fill="#4b7dcf"/>
<circle cx="939.11" cy="165.8" r="2.05" fill="#4b7dcf"/>
<circle cx="939.11" cy="168.4" r="2.05" fill="#4b7dcf"/>
<circle cx="939.11" cy="172.5" r="2.05" fill="#4b7dcf"/>
<circle cx="939.11" cy="176.8" r="2.05" fill="#4b7dcf"/>
<circle cx="939.11" cy="184.1" r="2.05" fill="#4b7dcf"/>
<circle cx="959.03" cy="183.1" r="2.05" fill="#4b7dcf"/>
<circle cx="959.03" cy="186.5" r="2.05" fill="#4b7dcf"/>
<circle cx="959.03" cy="190" r="2.05" fill="#4b7dcf"/>
<circle cx="959.03" cy="193" r="2.05" fill="#4b7dcf"/>
<circle cx="959.03" cy="196" r="2.05" fill="#4b7dcf"/>
<circle cx="959.03" cy="198" r="2.05" fill="#4b7dcf"/>
<circle cx="978.95" cy="187.7" r="2.05" fill="#4b7dcf"/>
<circle cx="978.95" cy="190" r="2.05" fill="#4b7dcf"/>
<circle cx="978.95" cy="193" r="2.05" fill="#4b7dcf"/>
<circle cx="978.95" cy="196" r="2.05" fill="#4b7dcf"/>
<circle cx="978.95" cy="199" r="2.05" fill="#4b7dcf"/>
<circle cx="998.87" cy="201.2" r="2.05" fill="#4b7dcf"/>
<circle cx="998.87" cy="204" r="2.05" fill="#4b7dcf"/>
<circle cx="998.87" cy="207" r="2.05" fill="#4b7dcf"/>
<circle cx="998.87" cy="210" r="2.05" fill="#4b7dcf"/>
<circle cx="998.87" cy="212" r="2.05" fill="#4b7dcf"/>
<circle cx="998.87" cy="214.2" r="2.05" fill="#4b7dcf"/>
<circle cx="1018.79" cy="104.5" r="2.05" fill="#4b7dcf"/>
<circle cx="1018.79" cy="122.2" r="2.05" fill="#4b7dcf"/>
<circle cx="1018.79" cy="128.4" r="2.05" fill="#4b7dcf"/>
<circle cx="1018.79" cy="131.6" r="2.05" fill="#4b7dcf"/>
<circle cx="1018.79" cy="134.7" r="2.05" fill="#4b7dcf"/>
<circle cx="1018.79" cy="138.8" r="2.05" fill="#4b7dcf"/>
<circle cx="1018.79" cy="144.4" r="2.05" fill="#4b7dcf"/>
<circle cx="1018.79" cy="147.1" r="2.05" fill="#4b7dcf"/>
<circle cx="1018.79" cy="151.3" r="2.05" fill="#4b7dcf"/>
<circle cx="1018.79" cy="155.4" r="2.05" fill="#4b7dcf"/>
<circle cx="1038.71" cy="192.2" r="2.05" fill="#4b7dcf"/>
<circle cx="1038.71" cy="195" r="2.05" fill="#4b7dcf"/>
<circle cx="1038.71" cy="198" r="2.05" fill="#4b7dcf"/>
<circle cx="1038.71" cy="201" r="2.05" fill="#4b7dcf"/>
<circle cx="1038.71" cy="204" r="2.05" fill="#4b7dcf"/>
<circle cx="1038.71" cy="207.4" r="2.05" fill="#4b7dcf"/>
<line x1="767.7" y1="188.6" x2="1050.7" y2="188.6" stroke="#ec1c24" stroke-width="1.8" stroke-dasharray="6.9 5.86"/>
<rect x="767.8" y="54.8" width="282.9" height="191" fill="none" stroke="#333" stroke-width="1.3" />
<rect x="767.8" y="27" width="282.9" height="27.8" fill="#d9d9d9" stroke="#333" stroke-width="1.3" />
<rect x="1059.6" y="54.8" width="282.9" height="191" fill="#fdfdfd" />
<line x1="1059.6" y1="223.6" x2="1342.5" y2="223.6" stroke="#f0f0f0" stroke-width="0.7" />
<line x1="1059.6" y1="153.6" x2="1342.5" y2="153.6" stroke="#f0f0f0" stroke-width="0.7" />
<line x1="1059.6" y1="83.6" x2="1342.5" y2="83.6" stroke="#f0f0f0" stroke-width="0.7" />
<line x1="1059.6" y1="188.6" x2="1342.5" y2="188.6" stroke="#ebebeb" stroke-width="1.3" />
<line x1="1059.6" y1="118.6" x2="1342.5" y2="118.6" stroke="#ebebeb" stroke-width="1.3" />
<line x1="1071.55" y1="54.8" x2="1071.55" y2="245.8" stroke="#ebebeb" stroke-width="1.3" />
<line x1="1091.47" y1="54.8" x2="1091.47" y2="245.8" stroke="#ebebeb" stroke-width="1.3" />
<line x1="1111.39" y1="54.8" x2="1111.39" y2="245.8" stroke="#ebebeb" stroke-width="1.3" />
<line x1="1131.31" y1="54.8" x2="1131.31" y2="245.8" stroke="#ebebeb" stroke-width="1.3" />
<line x1="1151.23" y1="54.8" x2="1151.23" y2="245.8" stroke="#ebebeb" stroke-width="1.3" />
<line x1="1171.15" y1="54.8" x2="1171.15" y2="245.8" stroke="#ebebeb" stroke-width="1.3" />
<line x1="1191.07" y1="54.8" x2="1191.07" y2="245.8" stroke="#ebebeb" stroke-width="1.3" />
<line x1="1210.99" y1="54.8" x2="1210.99" y2="245.8" stroke="#ebebeb" stroke-width="1.3" />
<line x1="1230.91" y1="54.8" x2="1230.91" y2="245.8" stroke="#ebebeb" stroke-width="1.3" />
<line x1="1250.83" y1="54.8" x2="1250.83" y2="245.8" stroke="#ebebeb" stroke-width="1.3" />
<line x1="1270.75" y1="54.8" x2="1270.75" y2="245.8" stroke="#ebebeb" stroke-width="1.3" />
<line x1="1290.67" y1="54.8" x2="1290.67" y2="245.8" stroke="#ebebeb" stroke-width="1.3" />
<line x1="1310.59" y1="54.8" x2="1310.59" y2="245.8" stroke="#ebebeb" stroke-width="1.3" />
<line x1="1330.51" y1="54.8" x2="1330.51" y2="245.8" stroke="#ebebeb" stroke-width="1.3" />
<line x1="1071.55" y1="187.2" x2="1071.55" y2="187.2" stroke="#555555" stroke-width="1.4" />
<line x1="1071.55" y1="189.8" x2="1071.55" y2="189.8" stroke="#555555" stroke-width="1.4" />
<rect x="1064.85" y="187.2" width="13.4" height="2.6" fill="#fff" stroke="#555555" stroke-width="1.5" />
<line x1="1064.85" y1="188.5" x2="1078.25" y2="188.5" stroke="#555555" stroke-width="2.6" />
<line x1="1091.47" y1="164.8" x2="1091.47" y2="164.8" stroke="#555555" stroke-width="1.4" />
<line x1="1091.47" y1="167.4" x2="1091.47" y2="167.4" stroke="#555555" stroke-width="1.4" />
<rect x="1084.77" y="164.8" width="13.4" height="2.6" fill="#fff" stroke="#555555" stroke-width="1.5" />
<line x1="1084.77" y1="166.1" x2="1098.17" y2="166.1" stroke="#555555" stroke-width="2.6" />
<line x1="1111.39" y1="151.5" x2="1111.39" y2="151.5" stroke="#555555" stroke-width="1.4" />
<line x1="1111.39" y1="154.1" x2="1111.39" y2="154.1" stroke="#555555" stroke-width="1.4" />
<rect x="1104.69" y="151.5" width="13.4" height="2.6" fill="#fff" stroke="#555555" stroke-width="1.5" />
<line x1="1104.69" y1="152.8" x2="1118.09" y2="152.8" stroke="#555555" stroke-width="2.6" />
<line x1="1131.31" y1="144.4" x2="1131.31" y2="144.4" stroke="#555555" stroke-width="1.4" />
<line x1="1131.31" y1="147" x2="1131.31" y2="147" stroke="#555555" stroke-width="1.4" />
<rect x="1124.61" y="144.4" width="13.4" height="2.6" fill="#fff" stroke="#555555" stroke-width="1.5" />
<line x1="1124.61" y1="145.7" x2="1138.01" y2="145.7" stroke="#555555" stroke-width="2.6" />
<line x1="1151.23" y1="138.2" x2="1151.23" y2="138.2" stroke="#555555" stroke-width="1.4" />
<line x1="1151.23" y1="140.8" x2="1151.23" y2="140.8" stroke="#555555" stroke-width="1.4" />
<rect x="1144.53" y="138.2" width="13.4" height="2.6" fill="#fff" stroke="#555555" stroke-width="1.5" />
<line x1="1144.53" y1="139.5" x2="1157.93" y2="139.5" stroke="#555555" stroke-width="2.6" />
<line x1="1171.15" y1="135.3" x2="1171.15" y2="135.3" stroke="#555555" stroke-width="1.4" />
<line x1="1171.15" y1="137.9" x2="1171.15" y2="137.9" stroke="#555555" stroke-width="1.4" />
<rect x="1164.45" y="135.3" width="13.4" height="2.6" fill="#fff" stroke="#555555" stroke-width="1.5" />
<line x1="1164.45" y1="136.6" x2="1177.85" y2="136.6" stroke="#555555" stroke-width="2.6" />
<line x1="1191.07" y1="126.4" x2="1191.07" y2="126.4" stroke="#555555" stroke-width="1.4" />
<line x1="1191.07" y1="129" x2="1191.07" y2="129" stroke="#555555" stroke-width="1.4" />
<rect x="1184.37" y="126.4" width="13.4" height="2.6" fill="#fff" stroke="#555555" stroke-width="1.5" />
<line x1="1184.37" y1="127.7" x2="1197.77" y2="127.7" stroke="#555555" stroke-width="2.6" />
<line x1="1210.99" y1="147.1" x2="1210.99" y2="147.1" stroke="#555555" stroke-width="1.4" />
<line x1="1210.99" y1="149.7" x2="1210.99" y2="149.7" stroke="#555555" stroke-width="1.4" />
<rect x="1204.29" y="147.1" width="13.4" height="2.6" fill="#fff" stroke="#555555" stroke-width="1.5" />
<line x1="1204.29" y1="148.4" x2="1217.69" y2="148.4" stroke="#555555" stroke-width="2.6" />
<line x1="1230.91" y1="162.7" x2="1230.91" y2="162.7" stroke="#555555" stroke-width="1.4" />
<line x1="1230.91" y1="165.3" x2="1230.91" y2="165.3" stroke="#555555" stroke-width="1.4" />
<rect x="1224.21" y="162.7" width="13.4" height="2.6" fill="#fff" stroke="#555555" stroke-width="1.5" />
<line x1="1224.21" y1="164" x2="1237.61" y2="164" stroke="#555555" stroke-width="2.6" />
<line x1="1250.83" y1="186.6" x2="1250.83" y2="186.6" stroke="#555555" stroke-width="1.4" />
<line x1="1250.83" y1="189.2" x2="1250.83" y2="189.2" stroke="#555555" stroke-width="1.4" />
<rect x="1244.13" y="186.6" width="13.4" height="2.6" fill="#fff" stroke="#555555" stroke-width="1.5" />
<line x1="1244.13" y1="187.9" x2="1257.53" y2="187.9" stroke="#555555" stroke-width="2.6" />
<line x1="1270.75" y1="210.5" x2="1270.75" y2="210.5" stroke="#555555" stroke-width="1.4" />
<line x1="1270.75" y1="213.1" x2="1270.75" y2="213.1" stroke="#555555" stroke-width="1.4" />
<rect x="1264.05" y="210.5" width="13.4" height="2.6" fill="#fff" stroke="#555555" stroke-width="1.5" />
<line x1="1264.05" y1="211.8" x2="1277.45" y2="211.8" stroke="#555555" stroke-width="2.6" />
<line x1="1290.67" y1="225.3" x2="1290.67" y2="225.3" stroke="#555555" stroke-width="1.4" />
<line x1="1290.67" y1="230.5" x2="1290.67" y2="230.5" stroke="#555555" stroke-width="1.4" />
<rect x="1283.97" y="225.3" width="13.4" height="5.2" fill="#fff" stroke="#555555" stroke-width="1.5" />
<line x1="1283.97" y1="227.8" x2="1297.37" y2="227.8" stroke="#555555" stroke-width="2.6" />
<line x1="1310.59" y1="167.5" x2="1310.59" y2="167.5" stroke="#555555" stroke-width="1.4" />
<line x1="1310.59" y1="170.1" x2="1310.59" y2="170.1" stroke="#555555" stroke-width="1.4" />
<rect x="1303.89" y="167.5" width="13.4" height="2.6" fill="#fff" stroke="#555555" stroke-width="1.5" />
<line x1="1303.89" y1="168.8" x2="1317.29" y2="168.8" stroke="#555555" stroke-width="2.6" />
<line x1="1330.51" y1="230.5" x2="1330.51" y2="230.5" stroke="#555555" stroke-width="1.4" />
<line x1="1330.51" y1="235.7" x2="1330.51" y2="235.7" stroke="#555555" stroke-width="1.4" />
<rect x="1323.81" y="230.5" width="13.4" height="5.2" fill="#fff" stroke="#555555" stroke-width="1.5" />
<line x1="1323.81" y1="233" x2="1337.21" y2="233" stroke="#555555" stroke-width="2.6" />
<circle cx="1071.55" cy="187.5" r="2.05" fill="#4b7dcf"/>
<circle cx="1071.55" cy="189.5" r="2.05" fill="#4b7dcf"/>
<circle cx="1091.47" cy="165.1" r="2.05" fill="#4b7dcf"/>
<circle cx="1091.47" cy="167.1" r="2.05" fill="#4b7dcf"/>
<circle cx="1111.39" cy="151.8" r="2.05" fill="#4b7dcf"/>
<circle cx="1111.39" cy="153.8" r="2.05" fill="#4b7dcf"/>
<circle cx="1131.31" cy="144.7" r="2.05" fill="#4b7dcf"/>
<circle cx="1131.31" cy="146.7" r="2.05" fill="#4b7dcf"/>
<circle cx="1151.23" cy="138.5" r="2.05" fill="#4b7dcf"/>
<circle cx="1151.23" cy="140.5" r="2.05" fill="#4b7dcf"/>
<circle cx="1171.15" cy="135.6" r="2.05" fill="#4b7dcf"/>
<circle cx="1171.15" cy="137.6" r="2.05" fill="#4b7dcf"/>
<circle cx="1191.07" cy="126.7" r="2.05" fill="#4b7dcf"/>
<circle cx="1191.07" cy="128.7" r="2.05" fill="#4b7dcf"/>
<circle cx="1210.99" cy="147.4" r="2.05" fill="#4b7dcf"/>
<circle cx="1210.99" cy="149.4" r="2.05" fill="#4b7dcf"/>
<circle cx="1230.91" cy="163" r="2.05" fill="#4b7dcf"/>
<circle cx="1230.91" cy="165" r="2.05" fill="#4b7dcf"/>
<circle cx="1250.83" cy="186.9" r="2.05" fill="#4b7dcf"/>
<circle cx="1250.83" cy="188.9" r="2.05" fill="#4b7dcf"/>
<circle cx="1270.75" cy="210.8" r="2.05" fill="#4b7dcf"/>
<circle cx="1270.75" cy="212.8" r="2.05" fill="#4b7dcf"/>
<circle cx="1290.67" cy="224.5" r="2.05" fill="#4b7dcf"/>
<circle cx="1290.67" cy="227" r="2.05" fill="#4b7dcf"/>
<circle cx="1290.67" cy="229.5" r="2.05" fill="#4b7dcf"/>
<circle cx="1290.67" cy="231.5" r="2.05" fill="#4b7dcf"/>
<circle cx="1310.59" cy="167.8" r="2.05" fill="#4b7dcf"/>
<circle cx="1310.59" cy="169.8" r="2.05" fill="#4b7dcf"/>
<circle cx="1330.51" cy="229.5" r="2.05" fill="#4b7dcf"/>
<circle cx="1330.51" cy="232" r="2.05" fill="#4b7dcf"/>
<circle cx="1330.51" cy="234.5" r="2.05" fill="#4b7dcf"/>
<circle cx="1330.51" cy="236.5" r="2.05" fill="#4b7dcf"/>
<line x1="1059.5" y1="188.6" x2="1342.5" y2="188.6" stroke="#ec1c24" stroke-width="1.8" stroke-dasharray="6.9 5.86"/>
<rect x="1059.6" y="54.8" width="282.9" height="191" fill="none" stroke="#333" stroke-width="1.3" />
<rect x="1059.6" y="27" width="282.9" height="27.8" fill="#d9d9d9" stroke="#333" stroke-width="1.3" />
<rect x="1351.4" y="54.8" width="282.9" height="191" fill="#fdfdfd" />
<line x1="1351.4" y1="223.6" x2="1634.3" y2="223.6" stroke="#f0f0f0" stroke-width="0.7" />
<line x1="1351.4" y1="153.6" x2="1634.3" y2="153.6" stroke="#f0f0f0" stroke-width="0.7" />
<line x1="1351.4" y1="83.6" x2="1634.3" y2="83.6" stroke="#f0f0f0" stroke-width="0.7" />
<line x1="1351.4" y1="188.6" x2="1634.3" y2="188.6" stroke="#ebebeb" stroke-width="1.3" />
<line x1="1351.4" y1="118.6" x2="1634.3" y2="118.6" stroke="#ebebeb" stroke-width="1.3" />
<line x1="1363.35" y1="54.8" x2="1363.35" y2="245.8" stroke="#ebebeb" stroke-width="1.3" />
<line x1="1383.27" y1="54.8" x2="1383.27" y2="245.8" stroke="#ebebeb" stroke-width="1.3" />
<line x1="1403.19" y1="54.8" x2="1403.19" y2="245.8" stroke="#ebebeb" stroke-width="1.3" />
<line x1="1423.11" y1="54.8" x2="1423.11" y2="245.8" stroke="#ebebeb" stroke-width="1.3" />
<line x1="1443.03" y1="54.8" x2="1443.03" y2="245.8" stroke="#ebebeb" stroke-width="1.3" />
<line x1="1462.95" y1="54.8" x2="1462.95" y2="245.8" stroke="#ebebeb" stroke-width="1.3" />
<line x1="1482.87" y1="54.8" x2="1482.87" y2="245.8" stroke="#ebebeb" stroke-width="1.3" />
<line x1="1502.79" y1="54.8" x2="1502.79" y2="245.8" stroke="#ebebeb" stroke-width="1.3" />
<line x1="1522.71" y1="54.8" x2="1522.71" y2="245.8" stroke="#ebebeb" stroke-width="1.3" />
<line x1="1542.63" y1="54.8" x2="1542.63" y2="245.8" stroke="#ebebeb" stroke-width="1.3" />
<line x1="1562.55" y1="54.8" x2="1562.55" y2="245.8" stroke="#ebebeb" stroke-width="1.3" />
<line x1="1582.47" y1="54.8" x2="1582.47" y2="245.8" stroke="#ebebeb" stroke-width="1.3" />
<line x1="1602.39" y1="54.8" x2="1602.39" y2="245.8" stroke="#ebebeb" stroke-width="1.3" />
<line x1="1622.31" y1="54.8" x2="1622.31" y2="245.8" stroke="#ebebeb" stroke-width="1.3" />
<line x1="1363.35" y1="141" x2="1363.35" y2="161.6" stroke="#555555" stroke-width="1.4" />
<line x1="1363.35" y1="179.9" x2="1363.35" y2="193.1" stroke="#555555" stroke-width="1.4" />
<rect x="1356.65" y="161.6" width="13.4" height="18.3" fill="#fff" stroke="#555555" stroke-width="1.5" />
<line x1="1356.65" y1="174.8" x2="1370.05" y2="174.8" stroke="#555555" stroke-width="2.6" />
<line x1="1383.27" y1="142" x2="1383.27" y2="143.2" stroke="#555555" stroke-width="1.4" />
<line x1="1383.27" y1="146.6" x2="1383.27" y2="148" stroke="#555555" stroke-width="1.4" />
<rect x="1376.57" y="143.2" width="13.4" height="3.4" fill="#fff" stroke="#555555" stroke-width="1.5" />
<line x1="1376.57" y1="144.9" x2="1389.97" y2="144.9" stroke="#555555" stroke-width="2.6" />
<line x1="1403.19" y1="91.7" x2="1403.19" y2="100.1" stroke="#555555" stroke-width="1.4" />
<line x1="1403.19" y1="113.4" x2="1403.19" y2="113.4" stroke="#555555" stroke-width="1.4" />
<rect x="1396.49" y="100.1" width="13.4" height="13.3" fill="#fff" stroke="#555555" stroke-width="1.5" />
<line x1="1396.49" y1="108" x2="1409.89" y2="108" stroke="#555555" stroke-width="2.6" />
<line x1="1423.11" y1="133.4" x2="1423.11" y2="133.4" stroke="#555555" stroke-width="1.4" />
<line x1="1423.11" y1="144.7" x2="1423.11" y2="144.7" stroke="#555555" stroke-width="1.4" />
<rect x="1416.41" y="133.4" width="13.4" height="11.3" fill="#fff" stroke="#555555" stroke-width="1.5" />
<line x1="1416.41" y1="139.6" x2="1429.81" y2="139.6" stroke="#555555" stroke-width="2.6" />
<line x1="1443.03" y1="111.4" x2="1443.03" y2="115" stroke="#555555" stroke-width="1.4" />
<line x1="1443.03" y1="122.7" x2="1443.03" y2="124.1" stroke="#555555" stroke-width="1.4" />
<rect x="1436.33" y="115" width="13.4" height="7.7" fill="#fff" stroke="#555555" stroke-width="1.5" />
<line x1="1436.33" y1="118.4" x2="1449.73" y2="118.4" stroke="#555555" stroke-width="2.6" />
<line x1="1462.95" y1="116.5" x2="1462.95" y2="126" stroke="#555555" stroke-width="1.4" />
<line x1="1462.95" y1="151.4" x2="1462.95" y2="156.5" stroke="#555555" stroke-width="1.4" />
<rect x="1456.25" y="126" width="13.4" height="25.4" fill="#fff" stroke="#555555" stroke-width="1.5" />
<line x1="1456.25" y1="136.8" x2="1469.65" y2="136.8" stroke="#555555" stroke-width="2.6" />
<line x1="1482.87" y1="124" x2="1482.87" y2="143" stroke="#555555" stroke-width="1.4" />
<line x1="1482.87" y1="166.4" x2="1482.87" y2="166.4" stroke="#555555" stroke-width="1.4" />
<rect x="1476.17" y="143" width="13.4" height="23.4" fill="#fff" stroke="#555555" stroke-width="1.5" />
<line x1="1476.17" y1="163.5" x2="1489.57" y2="163.5" stroke="#555555" stroke-width="2.6" />
<line x1="1502.79" y1="175.7" x2="1502.79" y2="179" stroke="#555555" stroke-width="1.4" />
<line x1="1502.79" y1="184.7" x2="1502.79" y2="187.5" stroke="#555555" stroke-width="1.4" />
<rect x="1496.09" y="179" width="13.4" height="5.7" fill="#fff" stroke="#555555" stroke-width="1.5" />
<line x1="1496.09" y1="181.9" x2="1509.49" y2="181.9" stroke="#555555" stroke-width="2.6" />
<line x1="1522.71" y1="190" x2="1522.71" y2="192.3" stroke="#555555" stroke-width="1.4" />
<line x1="1522.71" y1="196.8" x2="1522.71" y2="199.4" stroke="#555555" stroke-width="1.4" />
<rect x="1516.01" y="192.3" width="13.4" height="4.5" fill="#fff" stroke="#555555" stroke-width="1.5" />
<line x1="1516.01" y1="194.5" x2="1529.41" y2="194.5" stroke="#555555" stroke-width="2.6" />
<line x1="1542.63" y1="184.7" x2="1542.63" y2="195.1" stroke="#555555" stroke-width="1.4" />
<line x1="1542.63" y1="210.9" x2="1542.63" y2="224.2" stroke="#555555" stroke-width="1.4" />
<rect x="1535.93" y="195.1" width="13.4" height="15.8" fill="#fff" stroke="#555555" stroke-width="1.5" />
<line x1="1535.93" y1="201.6" x2="1549.33" y2="201.6" stroke="#555555" stroke-width="2.6" />
<line x1="1562.55" y1="193.1" x2="1562.55" y2="206.4" stroke="#555555" stroke-width="1.4" />
<line x1="1562.55" y1="219.9" x2="1562.55" y2="232.6" stroke="#555555" stroke-width="1.4" />
<rect x="1555.85" y="206.4" width="13.4" height="13.5" fill="#fff" stroke="#555555" stroke-width="1.5" />
<line x1="1555.85" y1="215.7" x2="1569.25" y2="215.7" stroke="#555555" stroke-width="2.6" />
<line x1="1582.47" y1="217.1" x2="1582.47" y2="226.4" stroke="#555555" stroke-width="1.4" />
<line x1="1582.47" y1="231.2" x2="1582.47" y2="236.8" stroke="#555555" stroke-width="1.4" />
<rect x="1575.77" y="226.4" width="13.4" height="4.8" fill="#fff" stroke="#555555" stroke-width="1.5" />
<line x1="1575.77" y1="228.8" x2="1589.17" y2="228.8" stroke="#555555" stroke-width="2.6" />
<line x1="1602.39" y1="66.3" x2="1602.39" y2="75.3" stroke="#555555" stroke-width="1.4" />
<line x1="1602.39" y1="82.6" x2="1602.39" y2="92.5" stroke="#555555" stroke-width="1.4" />
<rect x="1595.69" y="75.3" width="13.4" height="7.3" fill="#fff" stroke="#555555" stroke-width="1.5" />
<line x1="1595.69" y1="79" x2="1609.09" y2="79" stroke="#555555" stroke-width="2.6" />
<line x1="1622.31" y1="150.9" x2="1622.31" y2="174" stroke="#555555" stroke-width="1.4" />
<line x1="1622.31" y1="195.1" x2="1622.31" y2="201.6" stroke="#555555" stroke-width="1.4" />
<rect x="1615.61" y="174" width="13.4" height="21.1" fill="#fff" stroke="#555555" stroke-width="1.5" />
<line x1="1615.61" y1="184.1" x2="1629.01" y2="184.1" stroke="#555555" stroke-width="2.6" />
<circle cx="1363.35" cy="141" r="2.05" fill="#4b7dcf"/>
<circle cx="1363.35" cy="157.1" r="2.05" fill="#4b7dcf"/>
<circle cx="1363.35" cy="171.2" r="2.05" fill="#4b7dcf"/>
<circle cx="1363.35" cy="174.8" r="2.05" fill="#4b7dcf"/>
<circle cx="1363.35" cy="179" r="2.05" fill="#4b7dcf"/>
<circle cx="1363.35" cy="190.3" r="2.05" fill="#4b7dcf"/>
<circle cx="1363.35" cy="193.1" r="2.05" fill="#4b7dcf"/>
<circle cx="1383.27" cy="142.3" r="2.05" fill="#4b7dcf"/>
<circle cx="1383.27" cy="144" r="2.05" fill="#4b7dcf"/>
<circle cx="1383.27" cy="146" r="2.05" fill="#4b7dcf"/>
<circle cx="1383.27" cy="148" r="2.05" fill="#4b7dcf"/>
<circle cx="1403.19" cy="91.7" r="2.05" fill="#4b7dcf"/>
<circle cx="1403.19" cy="94.5" r="2.05" fill="#4b7dcf"/>
<circle cx="1403.19" cy="98.7" r="2.05" fill="#4b7dcf"/>
<circle cx="1403.19" cy="105.8" r="2.05" fill="#4b7dcf"/>
<circle cx="1403.19" cy="110" r="2.05" fill="#4b7dcf"/>
<circle cx="1403.19" cy="113.4" r="2.05" fill="#4b7dcf"/>
<circle cx="1403.19" cy="141" r="2.05" fill="#4b7dcf"/>
<circle cx="1403.19" cy="148.9" r="2.05" fill="#4b7dcf"/>
<circle cx="1423.11" cy="100.1" r="2.05" fill="#4b7dcf"/>
<circle cx="1423.11" cy="102.4" r="2.05" fill="#4b7dcf"/>
<circle cx="1423.11" cy="132.5" r="2.05" fill="#4b7dcf"/>
<circle cx="1423.11" cy="135.5" r="2.05" fill="#4b7dcf"/>
<circle cx="1423.11" cy="139.6" r="2.05" fill="#4b7dcf"/>
<circle cx="1423.11" cy="142.5" r="2.05" fill="#4b7dcf"/>
<circle cx="1423.11" cy="146.6" r="2.05" fill="#4b7dcf"/>
<circle cx="1443.03" cy="111.4" r="2.05" fill="#4b7dcf"/>
<circle cx="1443.03" cy="115" r="2.05" fill="#4b7dcf"/>
<circle cx="1443.03" cy="118.4" r="2.05" fill="#4b7dcf"/>
<circle cx="1443.03" cy="121" r="2.05" fill="#4b7dcf"/>
<circle cx="1443.03" cy="124.1" r="2.05" fill="#4b7dcf"/>
<circle cx="1443.03" cy="149.4" r="2.05" fill="#4b7dcf"/>
<circle cx="1462.95" cy="116.5" r="2.05" fill="#4b7dcf"/>
<circle cx="1462.95" cy="125.5" r="2.05" fill="#4b7dcf"/>
<circle cx="1462.95" cy="129.7" r="2.05" fill="#4b7dcf"/>
<circle cx="1462.95" cy="134" r="2.05" fill="#4b7dcf"/>
<circle cx="1462.95" cy="139.6" r="2.05" fill="#4b7dcf"/>
<circle cx="1462.95" cy="148" r="2.05" fill="#4b7dcf"/>
<circle cx="1462.95" cy="152" r="2.05" fill="#4b7dcf"/>
<circle cx="1462.95" cy="154.6" r="2.05" fill="#4b7dcf"/>
<circle cx="1482.87" cy="124" r="2.05" fill="#4b7dcf"/>
<circle cx="1482.87" cy="135.4" r="2.05" fill="#4b7dcf"/>
<circle cx="1482.87" cy="136.8" r="2.05" fill="#4b7dcf"/>
<circle cx="1482.87" cy="160.7" r="2.05" fill="#4b7dcf"/>
<circle cx="1482.87" cy="163.5" r="2.05" fill="#4b7dcf"/>
<circle cx="1482.87" cy="166.4" r="2.05" fill="#4b7dcf"/>
<circle cx="1482.87" cy="170.6" r="2.05" fill="#4b7dcf"/>
<circle cx="1502.79" cy="175.7" r="2.05" fill="#4b7dcf"/>
<circle cx="1502.79" cy="178.5" r="2.05" fill="#4b7dcf"/>
<circle cx="1502.79" cy="181" r="2.05" fill="#4b7dcf"/>
<circle cx="1502.79" cy="184" r="2.05" fill="#4b7dcf"/>
<circle cx="1502.79" cy="187.5" r="2.05" fill="#4b7dcf"/>
<circle cx="1522.71" cy="180.5" r="2.05" fill="#4b7dcf"/>
<circle cx="1522.71" cy="190.5" r="2.05" fill="#4b7dcf"/>
<circle cx="1522.71" cy="193.5" r="2.05" fill="#4b7dcf"/>
<circle cx="1522.71" cy="196.5" r="2.05" fill="#4b7dcf"/>
<circle cx="1522.71" cy="199.4" r="2.05" fill="#4b7dcf"/>
<circle cx="1542.63" cy="184.7" r="2.05" fill="#4b7dcf"/>
<circle cx="1542.63" cy="190.3" r="2.05" fill="#4b7dcf"/>
<circle cx="1542.63" cy="194.5" r="2.05" fill="#4b7dcf"/>
<circle cx="1542.63" cy="198.8" r="2.05" fill="#4b7dcf"/>
<circle cx="1542.63" cy="207.3" r="2.05" fill="#4b7dcf"/>
<circle cx="1542.63" cy="212.9" r="2.05" fill="#4b7dcf"/>
<circle cx="1542.63" cy="217.1" r="2.05" fill="#4b7dcf"/>
<circle cx="1542.63" cy="224.2" r="2.05" fill="#4b7dcf"/>
<circle cx="1562.55" cy="193.1" r="2.05" fill="#4b7dcf"/>
<circle cx="1562.55" cy="197.4" r="2.05" fill="#4b7dcf"/>
<circle cx="1562.55" cy="201.6" r="2.05" fill="#4b7dcf"/>
<circle cx="1562.55" cy="208.7" r="2.05" fill="#4b7dcf"/>
<circle cx="1562.55" cy="215.7" r="2.05" fill="#4b7dcf"/>
<circle cx="1562.55" cy="219.9" r="2.05" fill="#4b7dcf"/>
<circle cx="1562.55" cy="225.6" r="2.05" fill="#4b7dcf"/>
<circle cx="1562.55" cy="232.6" r="2.05" fill="#4b7dcf"/>
<circle cx="1582.47" cy="217.1" r="2.05" fill="#4b7dcf"/>
<circle cx="1582.47" cy="222.7" r="2.05" fill="#4b7dcf"/>
<circle cx="1582.47" cy="226.9" r="2.05" fill="#4b7dcf"/>
<circle cx="1582.47" cy="229.8" r="2.05" fill="#4b7dcf"/>
<circle cx="1582.47" cy="235.4" r="2.05" fill="#4b7dcf"/>
<circle cx="1602.39" cy="66.3" r="2.05" fill="#4b7dcf"/>
<circle cx="1602.39" cy="74.7" r="2.05" fill="#4b7dcf"/>
<circle cx="1602.39" cy="77.6" r="2.05" fill="#4b7dcf"/>
<circle cx="1602.39" cy="80.4" r="2.05" fill="#4b7dcf"/>
<circle cx="1602.39" cy="83.2" r="2.05" fill="#4b7dcf"/>
<circle cx="1602.39" cy="92.5" r="2.05" fill="#4b7dcf"/>
<circle cx="1602.39" cy="110" r="2.05" fill="#4b7dcf"/>
<circle cx="1622.31" cy="150.9" r="2.05" fill="#4b7dcf"/>
<circle cx="1622.31" cy="170.6" r="2.05" fill="#4b7dcf"/>
<circle cx="1622.31" cy="179" r="2.05" fill="#4b7dcf"/>
<circle cx="1622.31" cy="181.9" r="2.05" fill="#4b7dcf"/>
<circle cx="1622.31" cy="187.5" r="2.05" fill="#4b7dcf"/>
<circle cx="1622.31" cy="196" r="2.05" fill="#4b7dcf"/>
<circle cx="1622.31" cy="201.6" r="2.05" fill="#4b7dcf"/>
<line x1="1351.3" y1="188.6" x2="1634.3" y2="188.6" stroke="#ec1c24" stroke-width="1.8" stroke-dasharray="6.9 5.86"/>
<rect x="1351.4" y="54.8" width="282.9" height="191" fill="none" stroke="#333" stroke-width="1.3" />
<rect x="1351.4" y="27" width="282.9" height="27.8" fill="#d9d9d9" stroke="#333" stroke-width="1.3" />
<rect x="767.8" y="282.4" width="282.9" height="191" fill="#fdfdfd" />
<line x1="767.8" y1="450.75" x2="1050.7" y2="450.75" stroke="#f0f0f0" stroke-width="0.7" />
<line x1="767.8" y1="381.25" x2="1050.7" y2="381.25" stroke="#f0f0f0" stroke-width="0.7" />
<line x1="767.8" y1="311.75" x2="1050.7" y2="311.75" stroke="#f0f0f0" stroke-width="0.7" />
<line x1="767.8" y1="416" x2="1050.7" y2="416" stroke="#ebebeb" stroke-width="1.3" />
<line x1="767.8" y1="346.5" x2="1050.7" y2="346.5" stroke="#ebebeb" stroke-width="1.3" />
<line x1="779.75" y1="282.4" x2="779.75" y2="473.4" stroke="#ebebeb" stroke-width="1.3" />
<line x1="799.67" y1="282.4" x2="799.67" y2="473.4" stroke="#ebebeb" stroke-width="1.3" />
<line x1="819.59" y1="282.4" x2="819.59" y2="473.4" stroke="#ebebeb" stroke-width="1.3" />
<line x1="839.51" y1="282.4" x2="839.51" y2="473.4" stroke="#ebebeb" stroke-width="1.3" />
<line x1="859.43" y1="282.4" x2="859.43" y2="473.4" stroke="#ebebeb" stroke-width="1.3" />
<line x1="879.35" y1="282.4" x2="879.35" y2="473.4" stroke="#ebebeb" stroke-width="1.3" />
<line x1="899.27" y1="282.4" x2="899.27" y2="473.4" stroke="#ebebeb" stroke-width="1.3" />
<line x1="919.19" y1="282.4" x2="919.19" y2="473.4" stroke="#ebebeb" stroke-width="1.3" />
<line x1="939.11" y1="282.4" x2="939.11" y2="473.4" stroke="#ebebeb" stroke-width="1.3" />
<line x1="959.03" y1="282.4" x2="959.03" y2="473.4" stroke="#ebebeb" stroke-width="1.3" />
<line x1="978.95" y1="282.4" x2="978.95" y2="473.4" stroke="#ebebeb" stroke-width="1.3" />
<line x1="998.87" y1="282.4" x2="998.87" y2="473.4" stroke="#ebebeb" stroke-width="1.3" />
<line x1="1018.79" y1="282.4" x2="1018.79" y2="473.4" stroke="#ebebeb" stroke-width="1.3" />
<line x1="1038.71" y1="282.4" x2="1038.71" y2="473.4" stroke="#ebebeb" stroke-width="1.3" />
<line x1="779.75" y1="399.4" x2="779.75" y2="410.6" stroke="#555555" stroke-width="1.4" />
<line x1="779.75" y1="418.1" x2="779.75" y2="419.7" stroke="#555555" stroke-width="1.4" />
<rect x="773.05" y="410.6" width="13.4" height="7.5" fill="#fff" stroke="#555555" stroke-width="1.5" />
<line x1="773.05" y1="416" x2="786.45" y2="416" stroke="#555555" stroke-width="2.6" />
<line x1="799.67" y1="419.7" x2="799.67" y2="421.8" stroke="#555555" stroke-width="1.4" />
<line x1="799.67" y1="425.3" x2="799.67" y2="431.2" stroke="#555555" stroke-width="1.4" />
<rect x="792.97" y="421.8" width="13.4" height="3.5" fill="#fff" stroke="#555555" stroke-width="1.5" />
<line x1="792.97" y1="423.5" x2="806.37" y2="423.5" stroke="#555555" stroke-width="2.6" />
<line x1="819.59" y1="415.6" x2="819.59" y2="420.8" stroke="#555555" stroke-width="1.4" />
<line x1="819.59" y1="425.3" x2="819.59" y2="433.9" stroke="#555555" stroke-width="1.4" />
<rect x="812.89" y="420.8" width="13.4" height="4.5" fill="#fff" stroke="#555555" stroke-width="1.5" />
<line x1="812.89" y1="423" x2="826.29" y2="423" stroke="#555555" stroke-width="2.6" />
<line x1="839.51" y1="406.2" x2="839.51" y2="418.7" stroke="#555555" stroke-width="1.4" />
<line x1="839.51" y1="436.4" x2="839.51" y2="437.5" stroke="#555555" stroke-width="1.4" />
<rect x="832.81" y="418.7" width="13.4" height="17.7" fill="#fff" stroke="#555555" stroke-width="1.5" />
<line x1="832.81" y1="430.1" x2="846.21" y2="430.1" stroke="#555555" stroke-width="2.6" />
<line x1="859.43" y1="403.1" x2="859.43" y2="410.8" stroke="#555555" stroke-width="1.4" />
<line x1="859.43" y1="416.6" x2="859.43" y2="422.4" stroke="#555555" stroke-width="1.4" />
<rect x="852.73" y="410.8" width="13.4" height="5.8" fill="#fff" stroke="#555555" stroke-width="1.5" />
<line x1="852.73" y1="413.9" x2="866.13" y2="413.9" stroke="#555555" stroke-width="2.6" />
<line x1="879.35" y1="399.4" x2="879.35" y2="406.2" stroke="#555555" stroke-width="1.4" />
<line x1="879.35" y1="414.5" x2="879.35" y2="422.4" stroke="#555555" stroke-width="1.4" />
<rect x="872.65" y="406.2" width="13.4" height="8.3" fill="#fff" stroke="#555555" stroke-width="1.5" />
<line x1="872.65" y1="411.4" x2="886.05" y2="411.4" stroke="#555555" stroke-width="2.6" />
<line x1="899.27" y1="386.1" x2="899.27" y2="394.8" stroke="#555555" stroke-width="1.4" />
<line x1="899.27" y1="401.4" x2="899.27" y2="407.3" stroke="#555555" stroke-width="1.4" />
<rect x="892.57" y="394.8" width="13.4" height="6.6" fill="#fff" stroke="#555555" stroke-width="1.5" />
<line x1="892.57" y1="398.5" x2="905.97" y2="398.5" stroke="#555555" stroke-width="2.6" />
<line x1="919.19" y1="399" x2="919.19" y2="404.8" stroke="#555555" stroke-width="1.4" />
<line x1="919.19" y1="413.5" x2="919.19" y2="419.7" stroke="#555555" stroke-width="1.4" />
<rect x="912.49" y="404.8" width="13.4" height="8.7" fill="#fff" stroke="#555555" stroke-width="1.5" />
<line x1="912.49" y1="409.3" x2="925.89" y2="409.3" stroke="#555555" stroke-width="2.6" />
<line x1="939.11" y1="416.6" x2="939.11" y2="420.4" stroke="#555555" stroke-width="1.4" />
<line x1="939.11" y1="423.3" x2="939.11" y2="425" stroke="#555555" stroke-width="1.4" />
<rect x="932.41" y="420.4" width="13.4" height="2.9" fill="#fff" stroke="#555555" stroke-width="1.5" />
<line x1="932.41" y1="421.8" x2="945.81" y2="421.8" stroke="#555555" stroke-width="2.6" />
<line x1="959.03" y1="420.7" x2="959.03" y2="423.9" stroke="#555555" stroke-width="1.4" />
<line x1="959.03" y1="432.2" x2="959.03" y2="434.3" stroke="#555555" stroke-width="1.4" />
<rect x="952.33" y="423.9" width="13.4" height="8.3" fill="#fff" stroke="#555555" stroke-width="1.5" />
<line x1="952.33" y1="428" x2="965.73" y2="428" stroke="#555555" stroke-width="2.6" />
<line x1="978.95" y1="422.8" x2="978.95" y2="424.9" stroke="#555555" stroke-width="1.4" />
<line x1="978.95" y1="433.7" x2="978.95" y2="435.3" stroke="#555555" stroke-width="1.4" />
<rect x="972.25" y="424.9" width="13.4" height="8.8" fill="#fff" stroke="#555555" stroke-width="1.5" />
<line x1="972.25" y1="431.2" x2="985.65" y2="431.2" stroke="#555555" stroke-width="2.6" />
<line x1="998.87" y1="417.7" x2="998.87" y2="423.5" stroke="#555555" stroke-width="1.4" />
<line x1="998.87" y1="427.6" x2="998.87" y2="429.1" stroke="#555555" stroke-width="1.4" />
<rect x="992.17" y="423.5" width="13.4" height="4.1" fill="#fff" stroke="#555555" stroke-width="1.5" />
<line x1="992.17" y1="425.5" x2="1005.57" y2="425.5" stroke="#555555" stroke-width="2.6" />
<line x1="1018.79" y1="335" x2="1018.79" y2="340.2" stroke="#555555" stroke-width="1.4" />
<line x1="1018.79" y1="347.4" x2="1018.79" y2="355.7" stroke="#555555" stroke-width="1.4" />
<rect x="1012.09" y="340.2" width="13.4" height="7.2" fill="#fff" stroke="#555555" stroke-width="1.5" />
<line x1="1012.09" y1="343.9" x2="1025.49" y2="343.9" stroke="#555555" stroke-width="2.6" />
<line x1="1038.71" y1="379.2" x2="1038.71" y2="396.9" stroke="#555555" stroke-width="1.4" />
<line x1="1038.71" y1="405.6" x2="1038.71" y2="416.6" stroke="#555555" stroke-width="1.4" />
<rect x="1032.01" y="396.9" width="13.4" height="8.7" fill="#fff" stroke="#555555" stroke-width="1.5" />
<line x1="1032.01" y1="402.7" x2="1045.41" y2="402.7" stroke="#555555" stroke-width="2.6" />
<circle cx="779.75" cy="399.4" r="2.05" fill="#4b7dcf"/>
<circle cx="779.75" cy="409.5" r="2.05" fill="#4b7dcf"/>
<circle cx="779.75" cy="412.5" r="2.05" fill="#4b7dcf"/>
<circle cx="779.75" cy="416" r="2.05" fill="#4b7dcf"/>
<circle cx="779.75" cy="419.7" r="2.05" fill="#4b7dcf"/>
<circle cx="799.67" cy="419.7" r="2.05" fill="#4b7dcf"/>
<circle cx="799.67" cy="422" r="2.05" fill="#4b7dcf"/>
<circle cx="799.67" cy="424" r="2.05" fill="#4b7dcf"/>
<circle cx="799.67" cy="427" r="2.05" fill="#4b7dcf"/>
<circle cx="799.67" cy="431.2" r="2.05" fill="#4b7dcf"/>
<circle cx="819.59" cy="415.6" r="2.05" fill="#4b7dcf"/>
<circle cx="819.59" cy="419" r="2.05" fill="#4b7dcf"/>
<circle cx="819.59" cy="422" r="2.05" fill="#4b7dcf"/>
<circle cx="819.59" cy="425" r="2.05" fill="#4b7dcf"/>
<circle cx="819.59" cy="429" r="2.05" fill="#4b7dcf"/>
<circle cx="819.59" cy="433.9" r="2.05" fill="#4b7dcf"/>
<circle cx="839.51" cy="406.2" r="2.05" fill="#4b7dcf"/>
<circle cx="839.51" cy="419.7" r="2.05" fill="#4b7dcf"/>
<circle cx="839.51" cy="427" r="2.05" fill="#4b7dcf"/>
<circle cx="839.51" cy="435.3" r="2.05" fill="#4b7dcf"/>
<circle cx="839.51" cy="437.5" r="2.05" fill="#4b7dcf"/>
<circle cx="859.43" cy="403.1" r="2.05" fill="#4b7dcf"/>
<circle cx="859.43" cy="407.3" r="2.05" fill="#4b7dcf"/>
<circle cx="859.43" cy="411.4" r="2.05" fill="#4b7dcf"/>
<circle cx="859.43" cy="414.5" r="2.05" fill="#4b7dcf"/>
<circle cx="859.43" cy="422.4" r="2.05" fill="#4b7dcf"/>
<circle cx="879.35" cy="399.4" r="2.05" fill="#4b7dcf"/>
<circle cx="879.35" cy="402.1" r="2.05" fill="#4b7dcf"/>
<circle cx="879.35" cy="405.2" r="2.05" fill="#4b7dcf"/>
<circle cx="879.35" cy="408.3" r="2.05" fill="#4b7dcf"/>
<circle cx="879.35" cy="411.4" r="2.05" fill="#4b7dcf"/>
<circle cx="879.35" cy="414.5" r="2.05" fill="#4b7dcf"/>
<circle cx="879.35" cy="422.4" r="2.05" fill="#4b7dcf"/>
<circle cx="899.27" cy="386.1" r="2.05" fill="#4b7dcf"/>
<circle cx="899.27" cy="392.7" r="2.05" fill="#4b7dcf"/>
<circle cx="899.27" cy="396.9" r="2.05" fill="#4b7dcf"/>
<circle cx="899.27" cy="401" r="2.05" fill="#4b7dcf"/>
<circle cx="899.27" cy="405.2" r="2.05" fill="#4b7dcf"/>
<circle cx="899.27" cy="407.3" r="2.05" fill="#4b7dcf"/>
<circle cx="919.19" cy="399" r="2.05" fill="#4b7dcf"/>
<circle cx="919.19" cy="403" r="2.05" fill="#4b7dcf"/>
<circle cx="919.19" cy="407" r="2.05" fill="#4b7dcf"/>
<circle cx="919.19" cy="411" r="2.05" fill="#4b7dcf"/>
<circle cx="919.19" cy="415" r="2.05" fill="#4b7dcf"/>
<circle cx="919.19" cy="419.7" r="2.05" fill="#4b7dcf"/>
<circle cx="939.11" cy="416.6" r="2.05" fill="#4b7dcf"/>
<circle cx="939.11" cy="419" r="2.05" fill="#4b7dcf"/>
<circle cx="939.11" cy="422" r="2.05" fill="#4b7dcf"/>
<circle cx="939.11" cy="424" r="2.05" fill="#4b7dcf"/>
<circle cx="939.11" cy="432.8" r="2.05" fill="#4b7dcf"/>
<circle cx="959.03" cy="411.4" r="2.05" fill="#4b7dcf"/>
<circle cx="959.03" cy="420.7" r="2.05" fill="#4b7dcf"/>
<circle cx="959.03" cy="423.9" r="2.05" fill="#4b7dcf"/>
<circle cx="959.03" cy="428" r="2.05" fill="#4b7dcf"/>
<circle cx="959.03" cy="431.2" r="2.05" fill="#4b7dcf"/>
<circle cx="959.03" cy="434.3" r="2.05" fill="#4b7dcf"/>
<circle cx="978.95" cy="422.8" r="2.05" fill="#4b7dcf"/>
<circle cx="978.95" cy="426" r="2.05" fill="#4b7dcf"/>
<circle cx="978.95" cy="429.5" r="2.05" fill="#4b7dcf"/>
<circle cx="978.95" cy="432.5" r="2.05" fill="#4b7dcf"/>
<circle cx="978.95" cy="435.3" r="2.05" fill="#4b7dcf"/>
<circle cx="998.87" cy="417.7" r="2.05" fill="#4b7dcf"/>
<circle cx="998.87" cy="420.5" r="2.05" fill="#4b7dcf"/>
<circle cx="998.87" cy="424" r="2.05" fill="#4b7dcf"/>
<circle cx="998.87" cy="427" r="2.05" fill="#4b7dcf"/>
<circle cx="998.87" cy="429.1" r="2.05" fill="#4b7dcf"/>
<circle cx="1018.79" cy="335" r="2.05" fill="#4b7dcf"/>
<circle cx="1018.79" cy="339" r="2.05" fill="#4b7dcf"/>
<circle cx="1018.79" cy="342" r="2.05" fill="#4b7dcf"/>
<circle cx="1018.79" cy="345" r="2.05" fill="#4b7dcf"/>
<circle cx="1018.79" cy="349" r="2.05" fill="#4b7dcf"/>
<circle cx="1018.79" cy="355.7" r="2.05" fill="#4b7dcf"/>
<circle cx="1038.71" cy="379.2" r="2.05" fill="#4b7dcf"/>
<circle cx="1038.71" cy="390.2" r="2.05" fill="#4b7dcf"/>
<circle cx="1038.71" cy="395.8" r="2.05" fill="#4b7dcf"/>
<circle cx="1038.71" cy="401" r="2.05" fill="#4b7dcf"/>
<circle cx="1038.71" cy="404.1" r="2.05" fill="#4b7dcf"/>
<circle cx="1038.71" cy="416.6" r="2.05" fill="#4b7dcf"/>
<line x1="767.7" y1="416" x2="1050.7" y2="416" stroke="#ec1c24" stroke-width="1.8" stroke-dasharray="6.9 5.86"/>
<rect x="767.8" y="282.4" width="282.9" height="191" fill="none" stroke="#333" stroke-width="1.3" />
<rect x="767.8" y="254.5" width="282.9" height="27.9" fill="#d9d9d9" stroke="#333" stroke-width="1.3" />
<rect x="1059.6" y="282.4" width="282.9" height="191" fill="#fdfdfd" />
<line x1="1059.6" y1="450.75" x2="1342.5" y2="450.75" stroke="#f0f0f0" stroke-width="0.7" />
<line x1="1059.6" y1="381.25" x2="1342.5" y2="381.25" stroke="#f0f0f0" stroke-width="0.7" />
<line x1="1059.6" y1="311.75" x2="1342.5" y2="311.75" stroke="#f0f0f0" stroke-width="0.7" />
<line x1="1059.6" y1="416" x2="1342.5" y2="416" stroke="#ebebeb" stroke-width="1.3" />
<line x1="1059.6" y1="346.5" x2="1342.5" y2="346.5" stroke="#ebebeb" stroke-width="1.3" />
<line x1="1071.55" y1="282.4" x2="1071.55" y2="473.4" stroke="#ebebeb" stroke-width="1.3" />
<line x1="1091.47" y1="282.4" x2="1091.47" y2="473.4" stroke="#ebebeb" stroke-width="1.3" />
<line x1="1111.39" y1="282.4" x2="1111.39" y2="473.4" stroke="#ebebeb" stroke-width="1.3" />
<line x1="1131.31" y1="282.4" x2="1131.31" y2="473.4" stroke="#ebebeb" stroke-width="1.3" />
<line x1="1151.23" y1="282.4" x2="1151.23" y2="473.4" stroke="#ebebeb" stroke-width="1.3" />
<line x1="1171.15" y1="282.4" x2="1171.15" y2="473.4" stroke="#ebebeb" stroke-width="1.3" />
<line x1="1191.07" y1="282.4" x2="1191.07" y2="473.4" stroke="#ebebeb" stroke-width="1.3" />
<line x1="1210.99" y1="282.4" x2="1210.99" y2="473.4" stroke="#ebebeb" stroke-width="1.3" />
<line x1="1230.91" y1="282.4" x2="1230.91" y2="473.4" stroke="#ebebeb" stroke-width="1.3" />
<line x1="1250.83" y1="282.4" x2="1250.83" y2="473.4" stroke="#ebebeb" stroke-width="1.3" />
<line x1="1270.75" y1="282.4" x2="1270.75" y2="473.4" stroke="#ebebeb" stroke-width="1.3" />
<line x1="1290.67" y1="282.4" x2="1290.67" y2="473.4" stroke="#ebebeb" stroke-width="1.3" />
<line x1="1310.59" y1="282.4" x2="1310.59" y2="473.4" stroke="#ebebeb" stroke-width="1.3" />
<line x1="1330.51" y1="282.4" x2="1330.51" y2="473.4" stroke="#ebebeb" stroke-width="1.3" />
<line x1="1071.55" y1="417.6" x2="1071.55" y2="417.6" stroke="#555555" stroke-width="1.4" />
<line x1="1071.55" y1="420.2" x2="1071.55" y2="420.2" stroke="#555555" stroke-width="1.4" />
<rect x="1064.85" y="417.6" width="13.4" height="2.6" fill="#fff" stroke="#555555" stroke-width="1.5" />
<line x1="1064.85" y1="418.9" x2="1078.25" y2="418.9" stroke="#555555" stroke-width="2.6" />
<line x1="1091.47" y1="408" x2="1091.47" y2="408" stroke="#555555" stroke-width="1.4" />
<line x1="1091.47" y1="410.6" x2="1091.47" y2="410.6" stroke="#555555" stroke-width="1.4" />
<rect x="1084.77" y="408" width="13.4" height="2.6" fill="#fff" stroke="#555555" stroke-width="1.5" />
<line x1="1084.77" y1="409.3" x2="1098.17" y2="409.3" stroke="#555555" stroke-width="2.6" />
<line x1="1111.39" y1="398.1" x2="1111.39" y2="398.1" stroke="#555555" stroke-width="1.4" />
<line x1="1111.39" y1="400.7" x2="1111.39" y2="400.7" stroke="#555555" stroke-width="1.4" />
<rect x="1104.69" y="398.1" width="13.4" height="2.6" fill="#fff" stroke="#555555" stroke-width="1.5" />
<line x1="1104.69" y1="399.4" x2="1118.09" y2="399.4" stroke="#555555" stroke-width="2.6" />
<line x1="1131.31" y1="397" x2="1131.31" y2="397" stroke="#555555" stroke-width="1.4" />
<line x1="1131.31" y1="399.6" x2="1131.31" y2="399.6" stroke="#555555" stroke-width="1.4" />
<rect x="1124.61" y="397" width="13.4" height="2.6" fill="#fff" stroke="#555555" stroke-width="1.5" />
<line x1="1124.61" y1="398.3" x2="1138.01" y2="398.3" stroke="#555555" stroke-width="2.6" />
<line x1="1151.23" y1="396.6" x2="1151.23" y2="396.6" stroke="#555555" stroke-width="1.4" />
<line x1="1151.23" y1="399.2" x2="1151.23" y2="399.2" stroke="#555555" stroke-width="1.4" />
<rect x="1144.53" y="396.6" width="13.4" height="2.6" fill="#fff" stroke="#555555" stroke-width="1.5" />
<line x1="1144.53" y1="397.9" x2="1157.93" y2="397.9" stroke="#555555" stroke-width="2.6" />
<line x1="1171.15" y1="395" x2="1171.15" y2="395" stroke="#555555" stroke-width="1.4" />
<line x1="1171.15" y1="397.6" x2="1171.15" y2="397.6" stroke="#555555" stroke-width="1.4" />
<rect x="1164.45" y="395" width="13.4" height="2.6" fill="#fff" stroke="#555555" stroke-width="1.5" />
<line x1="1164.45" y1="396.3" x2="1177.85" y2="396.3" stroke="#555555" stroke-width="2.6" />
<line x1="1191.07" y1="391" x2="1191.07" y2="391" stroke="#555555" stroke-width="1.4" />
<line x1="1191.07" y1="393.6" x2="1191.07" y2="393.6" stroke="#555555" stroke-width="1.4" />
<rect x="1184.37" y="391" width="13.4" height="2.6" fill="#fff" stroke="#555555" stroke-width="1.5" />
<line x1="1184.37" y1="392.3" x2="1197.77" y2="392.3" stroke="#555555" stroke-width="2.6" />
<line x1="1210.99" y1="400.8" x2="1210.99" y2="400.8" stroke="#555555" stroke-width="1.4" />
<line x1="1210.99" y1="403.4" x2="1210.99" y2="403.4" stroke="#555555" stroke-width="1.4" />
<rect x="1204.29" y="400.8" width="13.4" height="2.6" fill="#fff" stroke="#555555" stroke-width="1.5" />
<line x1="1204.29" y1="402.1" x2="1217.69" y2="402.1" stroke="#555555" stroke-width="2.6" />
<line x1="1230.91" y1="405.5" x2="1230.91" y2="405.5" stroke="#555555" stroke-width="1.4" />
<line x1="1230.91" y1="408.1" x2="1230.91" y2="408.1" stroke="#555555" stroke-width="1.4" />
<rect x="1224.21" y="405.5" width="13.4" height="2.6" fill="#fff" stroke="#555555" stroke-width="1.5" />
<line x1="1224.21" y1="406.8" x2="1237.61" y2="406.8" stroke="#555555" stroke-width="2.6" />
<line x1="1250.83" y1="418" x2="1250.83" y2="418" stroke="#555555" stroke-width="1.4" />
<line x1="1250.83" y1="420.6" x2="1250.83" y2="420.6" stroke="#555555" stroke-width="1.4" />
<rect x="1244.13" y="418" width="13.4" height="2.6" fill="#fff" stroke="#555555" stroke-width="1.5" />
<line x1="1244.13" y1="419.3" x2="1257.53" y2="419.3" stroke="#555555" stroke-width="2.6" />
<line x1="1270.75" y1="426.4" x2="1270.75" y2="426.4" stroke="#555555" stroke-width="1.4" />
<line x1="1270.75" y1="430.5" x2="1270.75" y2="430.5" stroke="#555555" stroke-width="1.4" />
<rect x="1264.05" y="426.4" width="13.4" height="4.1" fill="#fff" stroke="#555555" stroke-width="1.5" />
<line x1="1264.05" y1="428.5" x2="1277.45" y2="428.5" stroke="#555555" stroke-width="2.6" />
<line x1="1290.67" y1="435.3" x2="1290.67" y2="435.3" stroke="#555555" stroke-width="1.4" />
<line x1="1290.67" y1="438.8" x2="1290.67" y2="438.8" stroke="#555555" stroke-width="1.4" />
<rect x="1283.97" y="435.3" width="13.4" height="3.5" fill="#fff" stroke="#555555" stroke-width="1.5" />
<line x1="1283.97" y1="437" x2="1297.37" y2="437" stroke="#555555" stroke-width="2.6" />
<line x1="1310.59" y1="382.5" x2="1310.59" y2="382.5" stroke="#555555" stroke-width="1.4" />
<line x1="1310.59" y1="385.1" x2="1310.59" y2="385.1" stroke="#555555" stroke-width="1.4" />
<rect x="1303.89" y="382.5" width="13.4" height="2.6" fill="#fff" stroke="#555555" stroke-width="1.5" />
<line x1="1303.89" y1="383.8" x2="1317.29" y2="383.8" stroke="#555555" stroke-width="2.6" />
<line x1="1330.51" y1="425.4" x2="1330.51" y2="425.4" stroke="#555555" stroke-width="1.4" />
<line x1="1330.51" y1="428.6" x2="1330.51" y2="428.6" stroke="#555555" stroke-width="1.4" />
<rect x="1323.81" y="425.4" width="13.4" height="3.2" fill="#fff" stroke="#555555" stroke-width="1.5" />
<line x1="1323.81" y1="427" x2="1337.21" y2="427" stroke="#555555" stroke-width="2.6" />
<circle cx="1071.55" cy="413.5" r="2.05" fill="#4b7dcf"/>
<circle cx="1071.55" cy="416.5" r="2.05" fill="#4b7dcf"/>
<circle cx="1071.55" cy="419" r="2.05" fill="#4b7dcf"/>
<circle cx="1071.55" cy="421.8" r="2.05" fill="#4b7dcf"/>
<circle cx="1091.47" cy="408.3" r="2.05" fill="#4b7dcf"/>
<circle cx="1091.47" cy="410.3" r="2.05" fill="#4b7dcf"/>
<circle cx="1111.39" cy="398.4" r="2.05" fill="#4b7dcf"/>
<circle cx="1111.39" cy="400.4" r="2.05" fill="#4b7dcf"/>
<circle cx="1131.31" cy="397.3" r="2.05" fill="#4b7dcf"/>
<circle cx="1131.31" cy="399.3" r="2.05" fill="#4b7dcf"/>
<circle cx="1151.23" cy="396.9" r="2.05" fill="#4b7dcf"/>
<circle cx="1151.23" cy="398.9" r="2.05" fill="#4b7dcf"/>
<circle cx="1171.15" cy="395.3" r="2.05" fill="#4b7dcf"/>
<circle cx="1171.15" cy="397.3" r="2.05" fill="#4b7dcf"/>
<circle cx="1191.07" cy="391.3" r="2.05" fill="#4b7dcf"/>
<circle cx="1191.07" cy="393.3" r="2.05" fill="#4b7dcf"/>
<circle cx="1210.99" cy="401.1" r="2.05" fill="#4b7dcf"/>
<circle cx="1210.99" cy="403.1" r="2.05" fill="#4b7dcf"/>
<circle cx="1230.91" cy="405.8" r="2.05" fill="#4b7dcf"/>
<circle cx="1230.91" cy="407.8" r="2.05" fill="#4b7dcf"/>
<circle cx="1250.83" cy="418.3" r="2.05" fill="#4b7dcf"/>
<circle cx="1250.83" cy="420.3" r="2.05" fill="#4b7dcf"/>
<circle cx="1270.75" cy="425" r="2.05" fill="#4b7dcf"/>
<circle cx="1270.75" cy="427.5" r="2.05" fill="#4b7dcf"/>
<circle cx="1270.75" cy="430" r="2.05" fill="#4b7dcf"/>
<circle cx="1270.75" cy="432" r="2.05" fill="#4b7dcf"/>
<circle cx="1290.67" cy="434" r="2.05" fill="#4b7dcf"/>
<circle cx="1290.67" cy="436.5" r="2.05" fill="#4b7dcf"/>
<circle cx="1290.67" cy="439" r="2.05" fill="#4b7dcf"/>
<circle cx="1290.67" cy="441" r="2.05" fill="#4b7dcf"/>
<circle cx="1310.59" cy="381.5" r="2.05" fill="#4b7dcf"/>
<circle cx="1310.59" cy="383.8" r="2.05" fill="#4b7dcf"/>
<circle cx="1310.59" cy="386" r="2.05" fill="#4b7dcf"/>
<circle cx="1330.51" cy="423" r="2.05" fill="#4b7dcf"/>
<circle cx="1330.51" cy="425.5" r="2.05" fill="#4b7dcf"/>
<circle cx="1330.51" cy="428" r="2.05" fill="#4b7dcf"/>
<circle cx="1330.51" cy="431" r="2.05" fill="#4b7dcf"/>
<line x1="1059.5" y1="416" x2="1342.5" y2="416" stroke="#ec1c24" stroke-width="1.8" stroke-dasharray="6.9 5.86"/>
<rect x="1059.6" y="282.4" width="282.9" height="191" fill="none" stroke="#333" stroke-width="1.3" />
<rect x="1059.6" y="254.5" width="282.9" height="27.9" fill="#d9d9d9" stroke="#333" stroke-width="1.3" />
<rect x="1351.4" y="282.4" width="282.9" height="191" fill="#fdfdfd" />
<line x1="1351.4" y1="450.75" x2="1634.3" y2="450.75" stroke="#f0f0f0" stroke-width="0.7" />
<line x1="1351.4" y1="381.25" x2="1634.3" y2="381.25" stroke="#f0f0f0" stroke-width="0.7" />
<line x1="1351.4" y1="311.75" x2="1634.3" y2="311.75" stroke="#f0f0f0" stroke-width="0.7" />
<line x1="1351.4" y1="416" x2="1634.3" y2="416" stroke="#ebebeb" stroke-width="1.3" />
<line x1="1351.4" y1="346.5" x2="1634.3" y2="346.5" stroke="#ebebeb" stroke-width="1.3" />
<line x1="1363.35" y1="282.4" x2="1363.35" y2="473.4" stroke="#ebebeb" stroke-width="1.3" />
<line x1="1383.27" y1="282.4" x2="1383.27" y2="473.4" stroke="#ebebeb" stroke-width="1.3" />
<line x1="1403.19" y1="282.4" x2="1403.19" y2="473.4" stroke="#ebebeb" stroke-width="1.3" />
<line x1="1423.11" y1="282.4" x2="1423.11" y2="473.4" stroke="#ebebeb" stroke-width="1.3" />
<line x1="1443.03" y1="282.4" x2="1443.03" y2="473.4" stroke="#ebebeb" stroke-width="1.3" />
<line x1="1462.95" y1="282.4" x2="1462.95" y2="473.4" stroke="#ebebeb" stroke-width="1.3" />
<line x1="1482.87" y1="282.4" x2="1482.87" y2="473.4" stroke="#ebebeb" stroke-width="1.3" />
<line x1="1502.79" y1="282.4" x2="1502.79" y2="473.4" stroke="#ebebeb" stroke-width="1.3" />
<line x1="1522.71" y1="282.4" x2="1522.71" y2="473.4" stroke="#ebebeb" stroke-width="1.3" />
<line x1="1542.63" y1="282.4" x2="1542.63" y2="473.4" stroke="#ebebeb" stroke-width="1.3" />
<line x1="1562.55" y1="282.4" x2="1562.55" y2="473.4" stroke="#ebebeb" stroke-width="1.3" />
<line x1="1582.47" y1="282.4" x2="1582.47" y2="473.4" stroke="#ebebeb" stroke-width="1.3" />
<line x1="1602.39" y1="282.4" x2="1602.39" y2="473.4" stroke="#ebebeb" stroke-width="1.3" />
<line x1="1622.31" y1="282.4" x2="1622.31" y2="473.4" stroke="#ebebeb" stroke-width="1.3" />
<line x1="1363.35" y1="414.7" x2="1363.35" y2="414.7" stroke="#555555" stroke-width="1.4" />
<line x1="1363.35" y1="417.3" x2="1363.35" y2="417.3" stroke="#555555" stroke-width="1.4" />
<rect x="1356.65" y="414.7" width="13.4" height="2.6" fill="#fff" stroke="#555555" stroke-width="1.5" />
<line x1="1356.65" y1="416" x2="1370.05" y2="416" stroke="#555555" stroke-width="2.6" />
<line x1="1383.27" y1="414.7" x2="1383.27" y2="414.7" stroke="#555555" stroke-width="1.4" />
<line x1="1383.27" y1="417.3" x2="1383.27" y2="417.3" stroke="#555555" stroke-width="1.4" />
<rect x="1376.57" y="414.7" width="13.4" height="2.6" fill="#fff" stroke="#555555" stroke-width="1.5" />
<line x1="1376.57" y1="416" x2="1389.97" y2="416" stroke="#555555" stroke-width="2.6" />
<line x1="1403.19" y1="414.7" x2="1403.19" y2="414.7" stroke="#555555" stroke-width="1.4" />
<line x1="1403.19" y1="417.3" x2="1403.19" y2="417.3" stroke="#555555" stroke-width="1.4" />
<rect x="1396.49" y="414.7" width="13.4" height="2.6" fill="#fff" stroke="#555555" stroke-width="1.5" />
<line x1="1396.49" y1="416" x2="1409.89" y2="416" stroke="#555555" stroke-width="2.6" />
<line x1="1423.11" y1="414.7" x2="1423.11" y2="414.7" stroke="#555555" stroke-width="1.4" />
<line x1="1423.11" y1="417.3" x2="1423.11" y2="417.3" stroke="#555555" stroke-width="1.4" />
<rect x="1416.41" y="414.7" width="13.4" height="2.6" fill="#fff" stroke="#555555" stroke-width="1.5" />
<line x1="1416.41" y1="416" x2="1429.81" y2="416" stroke="#555555" stroke-width="2.6" />
<line x1="1443.03" y1="414.7" x2="1443.03" y2="414.7" stroke="#555555" stroke-width="1.4" />
<line x1="1443.03" y1="417.3" x2="1443.03" y2="417.3" stroke="#555555" stroke-width="1.4" />
<rect x="1436.33" y="414.7" width="13.4" height="2.6" fill="#fff" stroke="#555555" stroke-width="1.5" />
<line x1="1436.33" y1="416" x2="1449.73" y2="416" stroke="#555555" stroke-width="2.6" />
<line x1="1462.95" y1="414.7" x2="1462.95" y2="414.7" stroke="#555555" stroke-width="1.4" />
<line x1="1462.95" y1="417.3" x2="1462.95" y2="417.3" stroke="#555555" stroke-width="1.4" />
<rect x="1456.25" y="414.7" width="13.4" height="2.6" fill="#fff" stroke="#555555" stroke-width="1.5" />
<line x1="1456.25" y1="416" x2="1469.65" y2="416" stroke="#555555" stroke-width="2.6" />
<line x1="1482.87" y1="414.7" x2="1482.87" y2="414.7" stroke="#555555" stroke-width="1.4" />
<line x1="1482.87" y1="417.3" x2="1482.87" y2="417.3" stroke="#555555" stroke-width="1.4" />
<rect x="1476.17" y="414.7" width="13.4" height="2.6" fill="#fff" stroke="#555555" stroke-width="1.5" />
<line x1="1476.17" y1="416" x2="1489.57" y2="416" stroke="#555555" stroke-width="2.6" />
<line x1="1502.79" y1="414.7" x2="1502.79" y2="414.7" stroke="#555555" stroke-width="1.4" />
<line x1="1502.79" y1="417.3" x2="1502.79" y2="417.3" stroke="#555555" stroke-width="1.4" />
<rect x="1496.09" y="414.7" width="13.4" height="2.6" fill="#fff" stroke="#555555" stroke-width="1.5" />
<line x1="1496.09" y1="416" x2="1509.49" y2="416" stroke="#555555" stroke-width="2.6" />
<line x1="1522.71" y1="414.7" x2="1522.71" y2="414.7" stroke="#555555" stroke-width="1.4" />
<line x1="1522.71" y1="417.3" x2="1522.71" y2="417.3" stroke="#555555" stroke-width="1.4" />
<rect x="1516.01" y="414.7" width="13.4" height="2.6" fill="#fff" stroke="#555555" stroke-width="1.5" />
<line x1="1516.01" y1="416" x2="1529.41" y2="416" stroke="#555555" stroke-width="2.6" />
<line x1="1542.63" y1="414.7" x2="1542.63" y2="414.7" stroke="#555555" stroke-width="1.4" />
<line x1="1542.63" y1="417.3" x2="1542.63" y2="417.3" stroke="#555555" stroke-width="1.4" />
<rect x="1535.93" y="414.7" width="13.4" height="2.6" fill="#fff" stroke="#555555" stroke-width="1.5" />
<line x1="1535.93" y1="416" x2="1549.33" y2="416" stroke="#555555" stroke-width="2.6" />
<line x1="1562.55" y1="414.7" x2="1562.55" y2="414.7" stroke="#555555" stroke-width="1.4" />
<line x1="1562.55" y1="417.3" x2="1562.55" y2="417.3" stroke="#555555" stroke-width="1.4" />
<rect x="1555.85" y="414.7" width="13.4" height="2.6" fill="#fff" stroke="#555555" stroke-width="1.5" />
<line x1="1555.85" y1="416" x2="1569.25" y2="416" stroke="#555555" stroke-width="2.6" />
<line x1="1582.47" y1="414.7" x2="1582.47" y2="414.7" stroke="#555555" stroke-width="1.4" />
<line x1="1582.47" y1="417.3" x2="1582.47" y2="417.3" stroke="#555555" stroke-width="1.4" />
<rect x="1575.77" y="414.7" width="13.4" height="2.6" fill="#fff" stroke="#555555" stroke-width="1.5" />
<line x1="1575.77" y1="416" x2="1589.17" y2="416" stroke="#555555" stroke-width="2.6" />
<line x1="1602.39" y1="414.7" x2="1602.39" y2="414.7" stroke="#555555" stroke-width="1.4" />
<line x1="1602.39" y1="417.3" x2="1602.39" y2="417.3" stroke="#555555" stroke-width="1.4" />
<rect x="1595.69" y="414.7" width="13.4" height="2.6" fill="#fff" stroke="#555555" stroke-width="1.5" />
<line x1="1595.69" y1="416" x2="1609.09" y2="416" stroke="#555555" stroke-width="2.6" />
<line x1="1622.31" y1="414.7" x2="1622.31" y2="414.7" stroke="#555555" stroke-width="1.4" />
<line x1="1622.31" y1="417.3" x2="1622.31" y2="417.3" stroke="#555555" stroke-width="1.4" />
<rect x="1615.61" y="414.7" width="13.4" height="2.6" fill="#fff" stroke="#555555" stroke-width="1.5" />
<line x1="1615.61" y1="416" x2="1629.01" y2="416" stroke="#555555" stroke-width="2.6" />
<circle cx="1363.35" cy="416" r="2.05" fill="#4b7dcf"/>
<circle cx="1383.27" cy="416" r="2.05" fill="#4b7dcf"/>
<circle cx="1403.19" cy="416" r="2.05" fill="#4b7dcf"/>
<circle cx="1423.11" cy="416" r="2.05" fill="#4b7dcf"/>
<circle cx="1443.03" cy="416" r="2.05" fill="#4b7dcf"/>
<circle cx="1462.95" cy="416" r="2.05" fill="#4b7dcf"/>
<circle cx="1482.87" cy="416" r="2.05" fill="#4b7dcf"/>
<circle cx="1502.79" cy="416" r="2.05" fill="#4b7dcf"/>
<circle cx="1522.71" cy="416" r="2.05" fill="#4b7dcf"/>
<circle cx="1542.63" cy="416" r="2.05" fill="#4b7dcf"/>
<circle cx="1562.55" cy="416" r="2.05" fill="#4b7dcf"/>
<circle cx="1582.47" cy="416" r="2.05" fill="#4b7dcf"/>
<circle cx="1602.39" cy="416" r="2.05" fill="#4b7dcf"/>
<circle cx="1622.31" cy="416" r="2.05" fill="#4b7dcf"/>
<line x1="1351.3" y1="416" x2="1634.3" y2="416" stroke="#ec1c24" stroke-width="1.8" stroke-dasharray="6.9 5.86"/>
<rect x="1351.4" y="282.4" width="282.9" height="191" fill="none" stroke="#333" stroke-width="1.3" />
<rect x="1351.4" y="254.5" width="282.9" height="27.9" fill="#d9d9d9" stroke="#333" stroke-width="1.3" />
<text x="813.2" y="47.6" font-size="16.6" fill="#1a1a1a" stroke="#1a1a1a" stroke-width="0.3" textLength="199.9" lengthAdjust="spacingAndGlyphs">Patient 1 (TP53 MAF 0.09)</text>
<text x="835" y="75.1" font-size="14.3" fill="#d42235" stroke="#d42235" stroke-width="0.3">Anova, p &lt; 2.2e−16</text>
<text x="1103.6" y="47.6" font-size="16.6" fill="#1a1a1a" stroke="#1a1a1a" stroke-width="0.3" textLength="200.5" lengthAdjust="spacingAndGlyphs">Patient 2 (TP53 MAF 0.22)</text>
<text x="1126.8" y="75.1" font-size="14.3" fill="#d42235" stroke="#d42235" stroke-width="0.3">Anova, p &lt; 2.2e−16</text>
<text x="1405.8" y="47.6" font-size="16.6" fill="#1a1a1a" stroke="#1a1a1a" stroke-width="0.3" textLength="190.5" lengthAdjust="spacingAndGlyphs">Patient 3 (TP53 MAF 0.2)</text>
<text x="1418.6" y="75.1" font-size="14.3" fill="#d42235" stroke="#d42235" stroke-width="0.3">Anova, p &lt; 2.2e−16</text>
<text x="808.8" y="275.1" font-size="16.6" fill="#1a1a1a" stroke="#1a1a1a" stroke-width="0.3" textLength="209.4" lengthAdjust="spacingAndGlyphs">Patient 4 (TP53 MAF 0.232)</text>
<text x="835" y="302.7" font-size="14.3" fill="#d42235" stroke="#d42235" stroke-width="0.3">Anova, p &lt; 2.2e−16</text>
<text x="1112.6" y="275.1" font-size="16.6" fill="#1a1a1a" stroke="#1a1a1a" stroke-width="0.3" textLength="193.4" lengthAdjust="spacingAndGlyphs">Patient 5 (TP53 MAF 0.504)</text>
<text x="1126.8" y="302.7" font-size="14.3" fill="#d42235" stroke="#d42235" stroke-width="0.3">Anova, p &lt; 2.2e−16</text>
<text x="1429.5" y="275.1" font-size="16.6" fill="#1a1a1a" stroke="#1a1a1a" stroke-width="0.3" textLength="125.5" lengthAdjust="spacingAndGlyphs">Healthy Controls</text>
<text x="1423.8" y="302.7" font-size="14.3" fill="#d42235" stroke="#d42235" stroke-width="0.3">Anova, p = 0.46</text>
<line x1="762.8" y1="188.6" x2="767.6" y2="188.6" stroke="#333" stroke-width="1.1" />
<text x="759.6" y="193.9" font-size="16.2" text-anchor="end" fill="#4d4d4d" stroke="#4d4d4d" stroke-width="0.3">1</text>
<line x1="762.8" y1="118.6" x2="767.6" y2="118.6" stroke="#333" stroke-width="1.1" />
<text x="759.6" y="123.9" font-size="16.2" text-anchor="end" fill="#4d4d4d" stroke="#4d4d4d" stroke-width="0.3">2</text>
<line x1="762.8" y1="416" x2="767.6" y2="416" stroke="#333" stroke-width="1.1" />
<text x="759.6" y="421.3" font-size="16.2" text-anchor="end" fill="#4d4d4d" stroke="#4d4d4d" stroke-width="0.3">1</text>
<line x1="762.8" y1="346.5" x2="767.6" y2="346.5" stroke="#333" stroke-width="1.1" />
<text x="759.6" y="351.8" font-size="16.2" text-anchor="end" fill="#4d4d4d" stroke="#4d4d4d" stroke-width="0.3">2</text>
<line x1="779.75" y1="473.4" x2="779.75" y2="477.6" stroke="#333" stroke-width="1.1" />
<text x="780.95" y="496.9" font-size="15.7" text-anchor="middle" fill="#4d4d4d" stroke="#4d4d4d" stroke-width="0.3">A</text>
<line x1="799.67" y1="473.4" x2="799.67" y2="477.6" stroke="#333" stroke-width="1.1" />
<text x="800.87" y="496.9" font-size="15.7" text-anchor="middle" fill="#4d4d4d" stroke="#4d4d4d" stroke-width="0.3">B</text>
<line x1="819.59" y1="473.4" x2="819.59" y2="477.6" stroke="#333" stroke-width="1.1" />
<text x="820.79" y="496.9" font-size="15.7" text-anchor="middle" fill="#4d4d4d" stroke="#4d4d4d" stroke-width="0.3">C</text>
<line x1="839.51" y1="473.4" x2="839.51" y2="477.6" stroke="#333" stroke-width="1.1" />
<text x="840.71" y="496.9" font-size="15.7" text-anchor="middle" fill="#4d4d4d" stroke="#4d4d4d" stroke-width="0.3">D</text>
<line x1="859.43" y1="473.4" x2="859.43" y2="477.6" stroke="#333" stroke-width="1.1" />
<text x="860.63" y="496.9" font-size="15.7" text-anchor="middle" fill="#4d4d4d" stroke="#4d4d4d" stroke-width="0.3">E</text>
<line x1="879.35" y1="473.4" x2="879.35" y2="477.6" stroke="#333" stroke-width="1.1" />
<text x="880.55" y="496.9" font-size="15.7" text-anchor="middle" fill="#4d4d4d" stroke="#4d4d4d" stroke-width="0.3">F</text>
<line x1="899.27" y1="473.4" x2="899.27" y2="477.6" stroke="#333" stroke-width="1.1" />
<text x="900.47" y="496.9" font-size="15.7" text-anchor="middle" fill="#4d4d4d" stroke="#4d4d4d" stroke-width="0.3">G</text>
<line x1="919.19" y1="473.4" x2="919.19" y2="477.6" stroke="#333" stroke-width="1.1" />
<text x="920.39" y="496.9" font-size="15.7" text-anchor="middle" fill="#4d4d4d" stroke="#4d4d4d" stroke-width="0.3">H</text>
<line x1="939.11" y1="473.4" x2="939.11" y2="477.6" stroke="#333" stroke-width="1.1" />
<text x="940.31" y="496.9" font-size="15.7" text-anchor="middle" fill="#4d4d4d" stroke="#4d4d4d" stroke-width="0.3">I</text>
<line x1="959.03" y1="473.4" x2="959.03" y2="477.6" stroke="#333" stroke-width="1.1" />
<text x="960.23" y="496.9" font-size="15.7" text-anchor="middle" fill="#4d4d4d" stroke="#4d4d4d" stroke-width="0.3">J</text>
<line x1="978.95" y1="473.4" x2="978.95" y2="477.6" stroke="#333" stroke-width="1.1" />
<text x="980.15" y="496.9" font-size="15.7" text-anchor="middle" fill="#4d4d4d" stroke="#4d4d4d" stroke-width="0.3">K</text>
<line x1="998.87" y1="473.4" x2="998.87" y2="477.6" stroke="#333" stroke-width="1.1" />
<text x="1000.07" y="496.9" font-size="15.7" text-anchor="middle" fill="#4d4d4d" stroke="#4d4d4d" stroke-width="0.3">L</text>
<line x1="1018.79" y1="473.4" x2="1018.79" y2="477.6" stroke="#333" stroke-width="1.1" />
<text x="1019.99" y="496.9" font-size="15.7" text-anchor="middle" fill="#4d4d4d" stroke="#4d4d4d" stroke-width="0.3">M</text>
<line x1="1038.71" y1="473.4" x2="1038.71" y2="477.6" stroke="#333" stroke-width="1.1" />
<text x="1039.91" y="496.9" font-size="15.7" text-anchor="middle" fill="#4d4d4d" stroke="#4d4d4d" stroke-width="0.3">N</text>
<line x1="1071.55" y1="473.4" x2="1071.55" y2="477.6" stroke="#333" stroke-width="1.1" />
<text x="1072.75" y="496.9" font-size="15.7" text-anchor="middle" fill="#4d4d4d" stroke="#4d4d4d" stroke-width="0.3">A</text>
<line x1="1091.47" y1="473.4" x2="1091.47" y2="477.6" stroke="#333" stroke-width="1.1" />
<text x="1092.67" y="496.9" font-size="15.7" text-anchor="middle" fill="#4d4d4d" stroke="#4d4d4d" stroke-width="0.3">B</text>
<line x1="1111.39" y1="473.4" x2="1111.39" y2="477.6" stroke="#333" stroke-width="1.1" />
<text x="1112.59" y="496.9" font-size="15.7" text-anchor="middle" fill="#4d4d4d" stroke="#4d4d4d" stroke-width="0.3">C</text>
<line x1="1131.31" y1="473.4" x2="1131.31" y2="477.6" stroke="#333" stroke-width="1.1" />
<text x="1132.51" y="496.9" font-size="15.7" text-anchor="middle" fill="#4d4d4d" stroke="#4d4d4d" stroke-width="0.3">D</text>
<line x1="1151.23" y1="473.4" x2="1151.23" y2="477.6" stroke="#333" stroke-width="1.1" />
<text x="1152.43" y="496.9" font-size="15.7" text-anchor="middle" fill="#4d4d4d" stroke="#4d4d4d" stroke-width="0.3">E</text>
<line x1="1171.15" y1="473.4" x2="1171.15" y2="477.6" stroke="#333" stroke-width="1.1" />
<text x="1172.35" y="496.9" font-size="15.7" text-anchor="middle" fill="#4d4d4d" stroke="#4d4d4d" stroke-width="0.3">F</text>
<line x1="1191.07" y1="473.4" x2="1191.07" y2="477.6" stroke="#333" stroke-width="1.1" />
<text x="1192.27" y="496.9" font-size="15.7" text-anchor="middle" fill="#4d4d4d" stroke="#4d4d4d" stroke-width="0.3">G</text>
<line x1="1210.99" y1="473.4" x2="1210.99" y2="477.6" stroke="#333" stroke-width="1.1" />
<text x="1212.19" y="496.9" font-size="15.7" text-anchor="middle" fill="#4d4d4d" stroke="#4d4d4d" stroke-width="0.3">H</text>
<line x1="1230.91" y1="473.4" x2="1230.91" y2="477.6" stroke="#333" stroke-width="1.1" />
<text x="1232.11" y="496.9" font-size="15.7" text-anchor="middle" fill="#4d4d4d" stroke="#4d4d4d" stroke-width="0.3">I</text>
<line x1="1250.83" y1="473.4" x2="1250.83" y2="477.6" stroke="#333" stroke-width="1.1" />
<text x="1252.03" y="496.9" font-size="15.7" text-anchor="middle" fill="#4d4d4d" stroke="#4d4d4d" stroke-width="0.3">J</text>
<line x1="1270.75" y1="473.4" x2="1270.75" y2="477.6" stroke="#333" stroke-width="1.1" />
<text x="1271.95" y="496.9" font-size="15.7" text-anchor="middle" fill="#4d4d4d" stroke="#4d4d4d" stroke-width="0.3">K</text>
<line x1="1290.67" y1="473.4" x2="1290.67" y2="477.6" stroke="#333" stroke-width="1.1" />
<text x="1291.87" y="496.9" font-size="15.7" text-anchor="middle" fill="#4d4d4d" stroke="#4d4d4d" stroke-width="0.3">L</text>
<line x1="1310.59" y1="473.4" x2="1310.59" y2="477.6" stroke="#333" stroke-width="1.1" />
<text x="1311.79" y="496.9" font-size="15.7" text-anchor="middle" fill="#4d4d4d" stroke="#4d4d4d" stroke-width="0.3">M</text>
<line x1="1330.51" y1="473.4" x2="1330.51" y2="477.6" stroke="#333" stroke-width="1.1" />
<text x="1331.71" y="496.9" font-size="15.7" text-anchor="middle" fill="#4d4d4d" stroke="#4d4d4d" stroke-width="0.3">N</text>
<line x1="1363.35" y1="473.4" x2="1363.35" y2="477.6" stroke="#333" stroke-width="1.1" />
<text x="1364.55" y="496.9" font-size="15.7" text-anchor="middle" fill="#4d4d4d" stroke="#4d4d4d" stroke-width="0.3">A</text>
<line x1="1383.27" y1="473.4" x2="1383.27" y2="477.6" stroke="#333" stroke-width="1.1" />
<text x="1384.47" y="496.9" font-size="15.7" text-anchor="middle" fill="#4d4d4d" stroke="#4d4d4d" stroke-width="0.3">B</text>
<line x1="1403.19" y1="473.4" x2="1403.19" y2="477.6" stroke="#333" stroke-width="1.1" />
<text x="1404.39" y="496.9" font-size="15.7" text-anchor="middle" fill="#4d4d4d" stroke="#4d4d4d" stroke-width="0.3">C</text>
<line x1="1423.11" y1="473.4" x2="1423.11" y2="477.6" stroke="#333" stroke-width="1.1" />
<text x="1424.31" y="496.9" font-size="15.7" text-anchor="middle" fill="#4d4d4d" stroke="#4d4d4d" stroke-width="0.3">D</text>
<line x1="1443.03" y1="473.4" x2="1443.03" y2="477.6" stroke="#333" stroke-width="1.1" />
<text x="1444.23" y="496.9" font-size="15.7" text-anchor="middle" fill="#4d4d4d" stroke="#4d4d4d" stroke-width="0.3">E</text>
<line x1="1462.95" y1="473.4" x2="1462.95" y2="477.6" stroke="#333" stroke-width="1.1" />
<text x="1464.15" y="496.9" font-size="15.7" text-anchor="middle" fill="#4d4d4d" stroke="#4d4d4d" stroke-width="0.3">F</text>
<line x1="1482.87" y1="473.4" x2="1482.87" y2="477.6" stroke="#333" stroke-width="1.1" />
<text x="1484.07" y="496.9" font-size="15.7" text-anchor="middle" fill="#4d4d4d" stroke="#4d4d4d" stroke-width="0.3">G</text>
<line x1="1502.79" y1="473.4" x2="1502.79" y2="477.6" stroke="#333" stroke-width="1.1" />
<text x="1503.99" y="496.9" font-size="15.7" text-anchor="middle" fill="#4d4d4d" stroke="#4d4d4d" stroke-width="0.3">H</text>
<line x1="1522.71" y1="473.4" x2="1522.71" y2="477.6" stroke="#333" stroke-width="1.1" />
<text x="1523.91" y="496.9" font-size="15.7" text-anchor="middle" fill="#4d4d4d" stroke="#4d4d4d" stroke-width="0.3">I</text>
<line x1="1542.63" y1="473.4" x2="1542.63" y2="477.6" stroke="#333" stroke-width="1.1" />
<text x="1543.83" y="496.9" font-size="15.7" text-anchor="middle" fill="#4d4d4d" stroke="#4d4d4d" stroke-width="0.3">J</text>
<line x1="1562.55" y1="473.4" x2="1562.55" y2="477.6" stroke="#333" stroke-width="1.1" />
<text x="1563.75" y="496.9" font-size="15.7" text-anchor="middle" fill="#4d4d4d" stroke="#4d4d4d" stroke-width="0.3">K</text>
<line x1="1582.47" y1="473.4" x2="1582.47" y2="477.6" stroke="#333" stroke-width="1.1" />
<text x="1583.67" y="496.9" font-size="15.7" text-anchor="middle" fill="#4d4d4d" stroke="#4d4d4d" stroke-width="0.3">L</text>
<line x1="1602.39" y1="473.4" x2="1602.39" y2="477.6" stroke="#333" stroke-width="1.1" />
<text x="1603.59" y="496.9" font-size="15.7" text-anchor="middle" fill="#4d4d4d" stroke="#4d4d4d" stroke-width="0.3">M</text>
<line x1="1622.31" y1="473.4" x2="1622.31" y2="477.6" stroke="#333" stroke-width="1.1" />
<text x="1623.51" y="496.9" font-size="15.7" text-anchor="middle" fill="#4d4d4d" stroke="#4d4d4d" stroke-width="0.3">N</text>
<text transform="translate(738.1 271.3) rotate(-90)" font-size="17.5" text-anchor="middle" stroke="#000" stroke-width="0.3">Realtive cancer cell fraction</text>
<text x="1094" y="533.3" font-size="18.2" stroke="#000" stroke-width="0.3">Fragment size selection bin</text>
<text x="806.4" y="600.6" font-size="16.2" text-anchor="end" fill="#4d4d4d" stroke="#4d4d4d" stroke-width="0.3" font-weight="bold">Selection</text>
<text x="806.4" y="620.1" font-size="16.2" text-anchor="end" fill="#4d4d4d" stroke="#4d4d4d" stroke-width="0.3" font-weight="bold">bin key</text>
<text x="827.4" y="599.8" font-size="16.4" fill="#4d4d4d" stroke="#4d4d4d" stroke-width="0.3">A: 0-52 bp</text>
<text x="827.4" y="627.5" font-size="16.4" fill="#4d4d4d" stroke="#4d4d4d" stroke-width="0.3">B: 74-83 bp</text>
<text x="928.3" y="599.8" font-size="16.4" fill="#4d4d4d" stroke="#4d4d4d" stroke-width="0.3">C: 84-94 bp</text>
<text x="928.3" y="627.5" font-size="16.4" fill="#4d4d4d" stroke="#4d4d4d" stroke-width="0.3">D: 95-104 bp</text>
<text x="1036.9" y="599.8" font-size="16.4" fill="#4d4d4d" stroke="#4d4d4d" stroke-width="0.3">E: 105-114 bp</text>
<text x="1036.9" y="627.5" font-size="16.4" fill="#4d4d4d" stroke="#4d4d4d" stroke-width="0.3">F: 115-125 bp</text>
<text x="1163.5" y="599.8" font-size="16.4" fill="#4d4d4d" stroke="#4d4d4d" stroke-width="0.3">G: 126-135 bp</text>
<text x="1163.5" y="627.5" font-size="16.4" fill="#4d4d4d" stroke="#4d4d4d" stroke-width="0.3">H: 136-143 bp</text>
<text x="1289.7" y="599.8" font-size="16.4" fill="#4d4d4d" stroke="#4d4d4d" stroke-width="0.3">I: 144-153 bp</text>
<text x="1289.7" y="627.5" font-size="16.4" fill="#4d4d4d" stroke="#4d4d4d" stroke-width="0.3">J: 154-160 bp</text>
<text x="1420.8" y="599.8" font-size="16.4" fill="#4d4d4d" stroke="#4d4d4d" stroke-width="0.3">K: 161-171 bp</text>
<text x="1420.8" y="627.5" font-size="16.4" fill="#4d4d4d" stroke="#4d4d4d" stroke-width="0.3">L: 172-239 bp</text>
<text x="1548.5" y="599.8" font-size="16.4" fill="#4d4d4d" stroke="#4d4d4d" stroke-width="0.3">M: 240-324 bp</text>
<text x="1548.5" y="627.5" font-size="16.4" fill="#4d4d4d" stroke="#4d4d4d" stroke-width="0.3">N: 325-400 bp</text>
<text x="692.3" y="27.9" font-size="17.8" stroke="#000" stroke-width="0.3">B.</text>
<text x="-0.6" y="442.6" font-size="18.6" stroke="#000" stroke-width="0.3">C.</text>
<rect x="77.2" y="563.5" width="1.8" height="8.3" fill="#4a86c6" />
<rect x="77.2" y="541.2" width="1.8" height="22.3" fill="#f5a04b" />
<rect x="77.2" y="521.2" width="1.8" height="20" fill="#d6284b" />
<rect x="77.2" y="504.5" width="1.8" height="16.7" fill="#3fb63c" />
<rect x="79" y="569" width="1.8" height="2.8" fill="#4a86c6" />
<rect x="79" y="565" width="1.8" height="4" fill="#f5a04b" />
<rect x="79" y="560" width="1.8" height="5" fill="#d6284b" />
<rect x="79" y="557" width="1.8" height="3" fill="#3fb63c" />
<rect x="80.6" y="571.8" width="2.6" height="7.7" fill="#4a86c6" />
<rect x="80.6" y="579.5" width="2.6" height="17.6" fill="#f5a04b" />
<rect x="80.6" y="597.1" width="2.6" height="11.5" fill="#d6284b" />
<rect x="80.6" y="608.6" width="2.6" height="12.7" fill="#3fb63c" />
<rect x="83.8" y="570.8" width="42.3" height="1" fill="#4a86c6" />
<rect x="83.8" y="567.5" width="42.3" height="3.3" fill="#f5a04b" />
<rect x="83.8" y="563.2" width="42.3" height="4.3" fill="#3fb63c" />
<rect x="126" y="571.8" width="1.6" height="1.2" fill="#4a86c6" />
<rect x="126" y="573" width="1.6" height="25" fill="#f5a04b" />
<rect x="126" y="598" width="1.6" height="5" fill="#d6284b" />
<rect x="126" y="603" width="1.6" height="16.5" fill="#3fb63c" />
<rect x="127.6" y="553.4" width="6.1" height="18.4" fill="#4a86c6" />
<rect x="127.6" y="535.5" width="6.1" height="17.9" fill="#f5a04b" />
<rect x="127.6" y="523" width="6.1" height="12.5" fill="#d6284b" />
<rect x="127.6" y="507.1" width="6.1" height="15.9" fill="#3fb63c" />
<rect x="133.7" y="569.7" width="35.9" height="2.1" fill="#4a86c6" />
<rect x="133.7" y="566.3" width="35.9" height="3.4" fill="#f5a04b" />
<rect x="133.7" y="560.4" width="35.9" height="5.9" fill="#3fb63c" />
<rect x="169.6" y="571.8" width="6.6" height="12" fill="#4a86c6" />
<rect x="169.6" y="583.8" width="6.6" height="12.1" fill="#f5a04b" />
<rect x="169.6" y="595.9" width="6.6" height="7.6" fill="#d6284b" />
<rect x="169.6" y="603.5" width="6.6" height="17.2" fill="#3fb63c" />
<rect x="176.2" y="571.8" width="4.8" height="13.2" fill="#4a86c6" />
<rect x="176.2" y="585" width="4.8" height="7" fill="#f5a04b" />
<rect x="176.2" y="592" width="4.8" height="8" fill="#d6284b" />
<rect x="176.2" y="600" width="4.8" height="9.8" fill="#3fb63c" />
<rect x="179.5" y="562.3" width="1" height="9.5" fill="#3fb63c" />
<rect x="181" y="571.8" width="18.8" height="12.6" fill="#4a86c6" />
<rect x="181" y="584.4" width="18.8" height="12.7" fill="#f5a04b" />
<rect x="181" y="597.1" width="18.8" height="3.6" fill="#d6284b" />
<rect x="181" y="600.7" width="18.8" height="22.2" fill="#3fb63c" />
<rect x="200.3" y="571" width="3.9" height="0.8" fill="#4a86c6" />
<rect x="200.3" y="561.2" width="3.9" height="9.8" fill="#f5a04b" />
<rect x="200.3" y="554.2" width="3.9" height="7" fill="#3fb63c" />
<rect x="204" y="571.8" width="1.9" height="1.2" fill="#4a86c6" />
<rect x="204" y="573" width="1.9" height="22" fill="#f5a04b" />
<rect x="204" y="595" width="1.9" height="6" fill="#d6284b" />
<rect x="204" y="601" width="1.9" height="16.7" fill="#3fb63c" />
<rect x="206" y="560" width="2" height="11.8" fill="#4a86c6" />
<rect x="206" y="537" width="2" height="23" fill="#f5a04b" />
<rect x="206" y="513.6" width="2" height="23.4" fill="#3fb63c" />
<rect x="208" y="544.5" width="7.8" height="27.3" fill="#4a86c6" />
<rect x="208" y="513.3" width="7.8" height="31.2" fill="#f5a04b" />
<rect x="208" y="500.9" width="7.8" height="12.4" fill="#d6284b" />
<rect x="208" y="475" width="7.8" height="25.9" fill="#3fb63c" />
<rect x="216.3" y="568.2" width="3.7" height="3.6" fill="#4a86c6" />
<rect x="216.3" y="562" width="3.7" height="6.2" fill="#f5a04b" />
<rect x="216.3" y="555.4" width="3.7" height="6.6" fill="#d6284b" />
<rect x="220.4" y="571.8" width="4.2" height="12.6" fill="#4a86c6" />
<rect x="220.4" y="584.4" width="4.2" height="13.9" fill="#f5a04b" />
<rect x="220.4" y="598.3" width="4.2" height="4.5" fill="#d6284b" />
<rect x="220.4" y="602.8" width="4.2" height="19.1" fill="#3fb63c" />
<rect x="224.7" y="571" width="3.1" height="0.8" fill="#4a86c6" />
<rect x="224.7" y="566.3" width="3.1" height="4.7" fill="#f5a04b" />
<rect x="224.7" y="559.6" width="3.1" height="6.7" fill="#3fb63c" />
<rect x="227.8" y="561.9" width="5.2" height="9.9" fill="#4a86c6" />
<rect x="227.8" y="544" width="5.2" height="17.9" fill="#f5a04b" />
<rect x="227.8" y="536.2" width="5.2" height="7.8" fill="#d6284b" />
<rect x="227.8" y="522.2" width="5.2" height="14" fill="#3fb63c" />
<rect x="232.9" y="571.8" width="12.3" height="13.8" fill="#4a86c6" />
<rect x="232.9" y="585.6" width="12.3" height="15.1" fill="#f5a04b" />
<rect x="232.9" y="600.7" width="12.3" height="13.3" fill="#d6284b" />
<rect x="232.9" y="614" width="12.3" height="12.7" fill="#3fb63c" />
<rect x="245.4" y="569.7" width="8.6" height="2.1" fill="#4a86c6" />
<rect x="245.4" y="566.3" width="8.6" height="3.4" fill="#f5a04b" />
<rect x="245.4" y="560.4" width="8.6" height="5.9" fill="#d6284b" />
<rect x="254.3" y="551.8" width="2.9" height="20" fill="#4a86c6" />
<rect x="254.3" y="537.8" width="2.9" height="14" fill="#f5a04b" />
<rect x="254.3" y="509.5" width="2.9" height="28.3" fill="#d6284b" />
<rect x="257.2" y="551.8" width="5.4" height="20" fill="#4a86c6" />
<rect x="257.2" y="537.8" width="5.4" height="14" fill="#f5a04b" />
<rect x="257.2" y="533" width="5.4" height="4.8" fill="#d6284b" />
<rect x="257.2" y="510.2" width="5.4" height="22.8" fill="#3fb63c" />
<rect x="262.6" y="565" width="1.4" height="6.8" fill="#4a86c6" />
<rect x="262.6" y="560" width="1.4" height="5" fill="#f5a04b" />
<rect x="262.6" y="558" width="1.4" height="2" fill="#d6284b" />
<rect x="262.6" y="555" width="1.4" height="3" fill="#3fb63c" />
<rect x="264.3" y="571.8" width="26.3" height="12.6" fill="#4a86c6" />
<rect x="264.3" y="584.4" width="26.3" height="15.1" fill="#f5a04b" />
<rect x="264.3" y="599.5" width="26.3" height="10.9" fill="#d6284b" />
<rect x="264.3" y="610.4" width="26.3" height="16.3" fill="#3fb63c" />
<rect x="295.3" y="564" width="1" height="7.8" fill="#3fb63c" />
<rect x="290.6" y="571.8" width="4.2" height="10.2" fill="#4a86c6" />
<rect x="290.6" y="582" width="4.2" height="13.3" fill="#f5a04b" />
<rect x="290.6" y="595.3" width="4.2" height="10.9" fill="#d6284b" />
<rect x="290.6" y="606.2" width="4.2" height="16.7" fill="#3fb63c" />
<rect x="294.8" y="571.8" width="1.8" height="2.2" fill="#4a86c6" />
<rect x="294.8" y="574" width="1.8" height="16" fill="#f5a04b" />
<rect x="294.8" y="590" width="1.8" height="5" fill="#d6284b" />
<rect x="294.8" y="595" width="1.8" height="15" fill="#3fb63c" />
<rect x="296.6" y="571.8" width="4" height="10.2" fill="#4a86c6" />
<rect x="296.6" y="582" width="4" height="13" fill="#f5a04b" />
<rect x="296.6" y="595" width="4" height="8.5" fill="#d6284b" />
<rect x="296.6" y="603.5" width="4" height="14.8" fill="#3fb63c" />
<rect x="300.7" y="570.4" width="11" height="1.4" fill="#4a86c6" />
<rect x="300.7" y="567.2" width="11" height="3.2" fill="#f5a04b" />
<rect x="300.7" y="562.7" width="11" height="4.5" fill="#d6284b" />
<rect x="300.7" y="560" width="11" height="2.7" fill="#3fb63c" />
<rect x="312.3" y="571.8" width="9.1" height="13.8" fill="#4a86c6" />
<rect x="312.3" y="585.6" width="9.1" height="11.1" fill="#f5a04b" />
<rect x="312.3" y="596.7" width="9.1" height="11.9" fill="#d6284b" />
<rect x="312.3" y="608.6" width="9.1" height="13.9" fill="#3fb63c" />
<rect x="321.7" y="567.5" width="3" height="4.3" fill="#4a86c6" />
<rect x="321.7" y="565" width="3" height="2.5" fill="#f5a04b" />
<rect x="321.7" y="559.1" width="3" height="5.9" fill="#3fb63c" />
<rect x="324.1" y="571.8" width="2.4" height="2.2" fill="#4a86c6" />
<rect x="324.1" y="574" width="2.4" height="16" fill="#f5a04b" />
<rect x="324.1" y="590" width="2.4" height="10" fill="#d6284b" />
<rect x="324.1" y="600" width="2.4" height="24.9" fill="#3fb63c" />
<rect x="326.5" y="569.8" width="27.9" height="2" fill="#4a86c6" />
<rect x="326.5" y="564" width="27.9" height="5.8" fill="#f5a04b" />
<rect x="326.5" y="559.1" width="27.9" height="4.9" fill="#d6284b" />
<rect x="326.5" y="557.4" width="27.9" height="1.7" fill="#3fb63c" />
<rect x="354.4" y="562.7" width="2.9" height="9.1" fill="#4a86c6" />
<rect x="354.4" y="540.5" width="2.9" height="22.2" fill="#f5a04b" />
<rect x="354.4" y="527.1" width="2.9" height="13.4" fill="#d6284b" />
<rect x="354.4" y="514.1" width="2.9" height="13" fill="#3fb63c" />
<rect x="357.1" y="571.8" width="6.7" height="12.6" fill="#4a86c6" />
<rect x="357.1" y="584.4" width="6.7" height="13.9" fill="#f5a04b" />
<rect x="357.1" y="598.3" width="6.7" height="3" fill="#d6284b" />
<rect x="357.1" y="601.3" width="6.7" height="22.1" fill="#3fb63c" />
<rect x="363.9" y="541" width="16.9" height="30.8" fill="#4a86c6" />
<rect x="363.9" y="518.2" width="16.9" height="22.8" fill="#f5a04b" />
<rect x="363.9" y="504" width="16.9" height="14.2" fill="#d6284b" />
<rect x="363.9" y="480.3" width="16.9" height="23.7" fill="#3fb63c" />
<rect x="380.8" y="536.9" width="5.3" height="34.9" fill="#4a86c6" />
<rect x="380.8" y="497.7" width="5.3" height="39.2" fill="#f5a04b" />
<rect x="380.8" y="484.9" width="5.3" height="12.8" fill="#d6284b" />
<rect x="386.1" y="571" width="16.9" height="0.8" fill="#4a86c6" />
<rect x="386.1" y="569.8" width="16.9" height="1.2" fill="#f5a04b" />
<rect x="386.1" y="566.3" width="16.9" height="3.5" fill="#d6284b" />
<rect x="386.1" y="564.5" width="16.9" height="1.8" fill="#3fb63c" />
<rect x="386.1" y="571.8" width="16.9" height="1.7" fill="#4a86c6" />
<rect x="403" y="558.3" width="11.1" height="13.5" fill="#4a86c6" />
<rect x="403" y="542.6" width="11.1" height="15.7" fill="#f5a04b" />
<rect x="403" y="536" width="11.1" height="6.6" fill="#d6284b" />
<rect x="403" y="518.7" width="11.1" height="17.3" fill="#3fb63c" />
<rect x="414.6" y="569" width="8.6" height="2.8" fill="#4a86c6" />
<rect x="414.6" y="566.3" width="8.6" height="2.7" fill="#f5a04b" />
<rect x="414.6" y="563.1" width="8.6" height="3.2" fill="#3fb63c" />
<rect x="414.6" y="571.8" width="8.6" height="2.6" fill="#d6284b" />
<rect x="423.1" y="571.8" width="12.1" height="13.2" fill="#4a86c6" />
<rect x="423.1" y="585" width="12.1" height="12.9" fill="#f5a04b" />
<rect x="423.1" y="597.9" width="12.1" height="8.9" fill="#d6284b" />
<rect x="423.1" y="606.8" width="12.1" height="18.7" fill="#3fb63c" />
<rect x="435.6" y="567.5" width="5.7" height="4.3" fill="#4a86c6" />
<rect x="435.6" y="564" width="5.7" height="3.5" fill="#f5a04b" />
<rect x="435.6" y="556.8" width="5.7" height="7.2" fill="#d6284b" />
<rect x="435.6" y="552.6" width="5.7" height="4.2" fill="#3fb63c" />
<rect x="441.7" y="571" width="7.6" height="0.8" fill="#4a86c6" />
<rect x="441.7" y="564.5" width="7.6" height="6.5" fill="#f5a04b" />
<rect x="441.7" y="560" width="7.6" height="4.5" fill="#d6284b" />
<rect x="441.7" y="555.2" width="7.6" height="4.8" fill="#3fb63c" />
<rect x="449.5" y="571.8" width="1.1" height="1.2" fill="#4a86c6" />
<rect x="449.5" y="573" width="1.1" height="12" fill="#f5a04b" />
<rect x="449.5" y="585" width="1.1" height="23.6" fill="#3fb63c" />
<rect x="449.3" y="571" width="4.5" height="0.8" fill="#4a86c6" />
<rect x="449.3" y="566.3" width="4.5" height="4.7" fill="#f5a04b" />
<rect x="449.3" y="562.2" width="4.5" height="4.1" fill="#d6284b" />
<rect x="454.7" y="560" width="7.6" height="11.8" fill="#4a86c6" />
<rect x="454.7" y="540.8" width="7.6" height="19.2" fill="#f5a04b" />
<rect x="454.7" y="530.7" width="7.6" height="10.1" fill="#d6284b" />
<rect x="454.7" y="513.2" width="7.6" height="17.5" fill="#3fb63c" />
<rect x="462.3" y="571" width="5.7" height="0.8" fill="#4a86c6" />
<rect x="462.3" y="566.3" width="5.7" height="4.7" fill="#f5a04b" />
<rect x="462.3" y="558.6" width="5.7" height="7.7" fill="#d6284b" />
<rect x="462.3" y="555.6" width="5.7" height="3" fill="#3fb63c" />
<rect x="468.5" y="568" width="2.2" height="3.8" fill="#4a86c6" />
<rect x="468.5" y="552" width="2.2" height="16" fill="#f5a04b" />
<rect x="468.5" y="515.2" width="2.2" height="36.8" fill="#3fb63c" />
<rect x="470.7" y="571" width="17.8" height="0.8" fill="#4a86c6" />
<rect x="470.7" y="566.3" width="17.8" height="4.7" fill="#f5a04b" />
<rect x="470.7" y="564.5" width="17.8" height="1.8" fill="#d6284b" />
<rect x="470.7" y="560.1" width="17.8" height="4.4" fill="#3fb63c" />
<rect x="487.8" y="562" width="1.8" height="9.8" fill="#4a86c6" />
<rect x="487.8" y="548" width="1.8" height="14" fill="#f5a04b" />
<rect x="489.6" y="558" width="3" height="13.8" fill="#4a86c6" />
<rect x="489.6" y="525.3" width="3" height="32.7" fill="#f5a04b" />
<rect x="489.6" y="505.8" width="3" height="19.5" fill="#d6284b" />
<rect x="489.6" y="479.9" width="3" height="25.9" fill="#3fb63c" />
<rect x="492.6" y="562" width="2.5" height="9.8" fill="#4a86c6" />
<rect x="492.6" y="540" width="2.5" height="22" fill="#f5a04b" />
<rect x="492.6" y="530" width="2.5" height="10" fill="#d6284b" />
<rect x="499.2" y="571.8" width="16" height="8.2" fill="#4a86c6" />
<rect x="499.2" y="580" width="16" height="9" fill="#f5a04b" />
<rect x="499.2" y="589" width="16" height="9.8" fill="#d6284b" />
<rect x="499.2" y="598.8" width="16" height="8.4" fill="#3fb63c" />
<rect x="526.1" y="571.8" width="6.2" height="12.3" fill="#4a86c6" />
<rect x="526.1" y="584.1" width="6.2" height="14" fill="#f5a04b" />
<rect x="526.1" y="598.1" width="6.2" height="11.6" fill="#d6284b" />
<rect x="526.1" y="609.7" width="6.2" height="16.6" fill="#3fb63c" />
<rect x="532.4" y="569.5" width="7.8" height="2.3" fill="#4a86c6" />
<rect x="532.4" y="568.1" width="7.8" height="1.4" fill="#f5a04b" />
<rect x="532.4" y="567.1" width="7.8" height="1" fill="#d6284b" />
<rect x="532.4" y="561.8" width="7.8" height="5.3" fill="#3fb63c" />
<rect x="559.2" y="549.8" width="1" height="22" fill="#3fb63c" />
<rect x="564.8" y="557.5" width="1.2" height="14.3" fill="#3fb63c" />
<rect x="559.9" y="571.8" width="4.5" height="11.1" fill="#4a86c6" />
<rect x="559.9" y="582.9" width="4.5" height="12.7" fill="#f5a04b" />
<rect x="559.9" y="595.6" width="4.5" height="2.1" fill="#d6284b" />
<rect x="559.9" y="597.7" width="4.5" height="22.9" fill="#3fb63c" />
<rect x="564.4" y="571.8" width="2.1" height="11.1" fill="#4a86c6" />
<rect x="564.4" y="582.9" width="2.1" height="1.1" fill="#f5a04b" />
<rect x="564.4" y="584" width="2.1" height="6" fill="#d6284b" />
<rect x="566.5" y="571.8" width="2.5" height="11.1" fill="#4a86c6" />
<rect x="566.5" y="582.9" width="2.5" height="7.1" fill="#f5a04b" />
<rect x="566.5" y="590" width="2.5" height="7.7" fill="#d6284b" />
<rect x="569" y="571.8" width="9.2" height="11.1" fill="#4a86c6" />
<rect x="569" y="582.9" width="9.2" height="12.7" fill="#f5a04b" />
<rect x="569" y="595.6" width="9.2" height="2.1" fill="#d6284b" />
<rect x="569" y="597.7" width="9.2" height="22.9" fill="#3fb63c" />
<rect x="578" y="558.3" width="1" height="13.5" fill="#3fb63c" />
<rect x="579.2" y="571.8" width="7.9" height="14.3" fill="#4a86c6" />
<rect x="579.2" y="586.1" width="7.9" height="12.3" fill="#f5a04b" />
<rect x="579.2" y="598.4" width="7.9" height="8.6" fill="#d6284b" />
<rect x="579.2" y="607" width="7.9" height="19" fill="#3fb63c" />
<rect x="587.3" y="571" width="3.6" height="0.8" fill="#4a86c6" />
<rect x="587.3" y="566.3" width="3.6" height="4.7" fill="#f5a04b" />
<rect x="590.9" y="551.2" width="3" height="20.6" fill="#4a86c6" />
<rect x="590.9" y="537.3" width="3" height="13.9" fill="#f5a04b" />
<rect x="590.9" y="515.6" width="3" height="21.7" fill="#3fb63c" />
<rect x="593.9" y="571.8" width="2.1" height="2.2" fill="#4a86c6" />
<rect x="593.9" y="574" width="2.1" height="19.6" fill="#f5a04b" />
<rect x="593.9" y="593.6" width="2.1" height="10.9" fill="#d6284b" />
<rect x="593.9" y="604.5" width="2.1" height="16.3" fill="#3fb63c" />
<rect x="596.2" y="571" width="13.4" height="0.8" fill="#4a86c6" />
<rect x="596.2" y="566.3" width="13.4" height="4.7" fill="#f5a04b" />
<rect x="596.2" y="559.2" width="13.4" height="7.1" fill="#d6284b" />
<rect x="610" y="567.2" width="10.3" height="4.6" fill="#4a86c6" />
<rect x="610" y="563.6" width="10.3" height="3.6" fill="#f5a04b" />
<rect x="610" y="560.1" width="10.3" height="3.5" fill="#3fb63c" />
<rect x="620.3" y="536.9" width="1.4" height="34.9" fill="#4a86c6" />
<rect x="620.3" y="503.1" width="1.4" height="33.8" fill="#f5a04b" />
<rect x="620.3" y="470.7" width="1.4" height="32.4" fill="#3fb63c" />
<rect x="621.7" y="571" width="11.9" height="0.8" fill="#4a86c6" />
<rect x="621.7" y="565" width="11.9" height="6" fill="#f5a04b" />
<rect x="621.7" y="562.7" width="11.9" height="2.3" fill="#d6284b" />
<rect x="621.7" y="554.4" width="11.9" height="8.3" fill="#3fb63c" />
<rect x="637.5" y="571.8" width="5.7" height="10.2" fill="#4a86c6" />
<rect x="637.5" y="582" width="5.7" height="11.6" fill="#f5a04b" />
<rect x="637.5" y="593.6" width="5.7" height="12.9" fill="#d6284b" />
<rect x="637.5" y="606.5" width="5.7" height="14.1" fill="#3fb63c" />
<rect x="647.9" y="571" width="2.3" height="0.8" fill="#4a86c6" />
<rect x="647.9" y="562.7" width="2.3" height="8.3" fill="#f5a04b" />
<rect x="647.9" y="556.2" width="2.3" height="6.5" fill="#3fb63c" />
<rect x="649.8" y="571.8" width="3.8" height="6.2" fill="#4a86c6" />
<rect x="649.8" y="578" width="3.8" height="15" fill="#f5a04b" />
<rect x="649.8" y="593" width="3.8" height="6.7" fill="#d6284b" />
<rect x="649.8" y="599.7" width="3.8" height="19.1" fill="#3fb63c" />
<polygon points="516.3,571.8 516.8,542.7 518.3,543.5 521.9,557.5 526.2,558.2 526.2,571.8" fill="#3fb63c"/>
<polygon points="516.3,571.8 516.8,556 519,558 521.9,562.5 526.2,562.5 526.2,571.8" fill="#d6284b"/>
<polygon points="516.3,571.8 516.8,559.6 519,562 521.9,565.3 526.2,565.3 526.2,571.8" fill="#f5a04b"/>
<polygon points="516.5,571.8 517.5,567 519.5,566.7 521,571 521.5,571.8" fill="#4a86c6"/>
<polygon points="540.2,571.8 540.2,561.8 545.5,551.9 545.5,571.8" fill="#3fb63c"/>
<polygon points="545.6,598.4 545.8,612.5 559.2,612.5 559.2,598.4" fill="#3fb63c"/>
<polygon points="540.5,571.8 545.8,598.4 559.2,598.4 559.2,571.8" fill="#d6284b"/>
<polygon points="542,571.8 545.5,582.2 546.8,591.3 559.2,591.3 559.2,571.8" fill="#f5a04b"/>
<polygon points="540.8,571.8 544.5,582.2 559.2,582.2 559.2,571.8" fill="#4a86c6"/>
<line x1="127" y1="444.5" x2="127" y2="652" stroke="#8c8c8c" stroke-width="1.4" stroke-dasharray="6.3 6.4" stroke-dashoffset="3"/>
<line x1="176.25" y1="444.5" x2="176.25" y2="652" stroke="#8c8c8c" stroke-width="1.4" stroke-dasharray="6.3 6.4" stroke-dashoffset="3"/>
<line x1="215.5" y1="444.5" x2="215.5" y2="652" stroke="#8c8c8c" stroke-width="1.4" stroke-dasharray="6.3 6.4" stroke-dashoffset="3"/>
<line x1="254.5" y1="444.5" x2="254.5" y2="652" stroke="#8c8c8c" stroke-width="1.4" stroke-dasharray="6.3 6.4" stroke-dashoffset="3"/>
<line x1="290.75" y1="444.5" x2="290.75" y2="652" stroke="#8c8c8c" stroke-width="1.4" stroke-dasharray="6.3 6.4" stroke-dashoffset="3"/>
<line x1="325" y1="444.5" x2="325" y2="652" stroke="#8c8c8c" stroke-width="1.4" stroke-dasharray="6.3 6.4" stroke-dashoffset="3"/>
<line x1="356.75" y1="444.5" x2="356.75" y2="652" stroke="#8c8c8c" stroke-width="1.4" stroke-dasharray="6.3 6.4" stroke-dashoffset="3"/>
<line x1="385.75" y1="444.5" x2="385.75" y2="652" stroke="#8c8c8c" stroke-width="1.4" stroke-dasharray="6.3 6.4" stroke-dashoffset="3"/>
<line x1="414.25" y1="444.5" x2="414.25" y2="652" stroke="#8c8c8c" stroke-width="1.4" stroke-dasharray="6.3 6.4" stroke-dashoffset="3"/>
<line x1="441.25" y1="444.5" x2="441.25" y2="652" stroke="#8c8c8c" stroke-width="1.4" stroke-dasharray="6.3 6.4" stroke-dashoffset="3"/>
<line x1="468.5" y1="444.5" x2="468.5" y2="652" stroke="#8c8c8c" stroke-width="1.4" stroke-dasharray="6.3 6.4" stroke-dashoffset="3"/>
<line x1="495.2" y1="444.5" x2="495.2" y2="652" stroke="#8c8c8c" stroke-width="1.4" stroke-dasharray="6.3 6.4" stroke-dashoffset="3"/>
<line x1="518" y1="444.5" x2="518" y2="652" stroke="#8c8c8c" stroke-width="1.4" stroke-dasharray="6.3 6.4" stroke-dashoffset="3"/>
<line x1="539.5" y1="444.5" x2="539.5" y2="652" stroke="#8c8c8c" stroke-width="1.4" stroke-dasharray="6.3 6.4" stroke-dashoffset="3"/>
<line x1="559.8" y1="444.5" x2="559.8" y2="652" stroke="#8c8c8c" stroke-width="1.4" stroke-dasharray="6.3 6.4" stroke-dashoffset="3"/>
<line x1="578" y1="444.5" x2="578" y2="652" stroke="#8c8c8c" stroke-width="1.4" stroke-dasharray="6.3 6.4" stroke-dashoffset="3"/>
<line x1="593.9" y1="444.5" x2="593.9" y2="652" stroke="#8c8c8c" stroke-width="1.4" stroke-dasharray="6.3 6.4" stroke-dashoffset="3"/>
<line x1="610" y1="444.5" x2="610" y2="652" stroke="#8c8c8c" stroke-width="1.4" stroke-dasharray="6.3 6.4" stroke-dashoffset="3"/>
<line x1="621.3" y1="444.5" x2="621.3" y2="652" stroke="#8c8c8c" stroke-width="1.4" stroke-dasharray="6.3 6.4" stroke-dashoffset="3"/>
<line x1="634.1" y1="444.5" x2="634.1" y2="652" stroke="#8c8c8c" stroke-width="1.4" stroke-dasharray="6.3 6.4" stroke-dashoffset="3"/>
<line x1="643.3" y1="444.5" x2="643.3" y2="652" stroke="#8c8c8c" stroke-width="1.4" stroke-dasharray="6.3 6.4" stroke-dashoffset="3"/>
<line x1="653.7" y1="444.5" x2="653.7" y2="652" stroke="#8c8c8c" stroke-width="1.4" stroke-dasharray="6.3 6.4" stroke-dashoffset="3"/>
<rect x="54.5" y="436.9" width="277.4" height="20.7" fill="#fbfbfb" />
<text x="70" y="452.2" font-size="14.85" fill="#111" stroke="#111" stroke-width="0.3">Patient 2 (TP53 MAF 0.22)</text>
<line x1="49" y1="571.8" x2="661.3" y2="571.8" stroke="#7f7f7f" stroke-width="1.9" />
<line x1="48.8" y1="443.5" x2="48.8" y2="652.9" stroke="#000" stroke-width="1.5" />
<line x1="48.1" y1="652.5" x2="663.3" y2="652.5" stroke="#000" stroke-width="1.7" />
<line x1="45.3" y1="452.5" x2="48.8" y2="452.5" stroke="#333" stroke-width="1" />
<text x="42.4" y="457.1" font-size="13" text-anchor="end" fill="#4d4d4d" stroke="#4d4d4d" stroke-width="0.3">1.0</text>
<line x1="45.3" y1="512" x2="48.8" y2="512" stroke="#333" stroke-width="1" />
<text x="42.4" y="516.6" font-size="13" text-anchor="end" fill="#4d4d4d" stroke="#4d4d4d" stroke-width="0.3">0.5</text>
<line x1="45.3" y1="571.5" x2="48.8" y2="571.5" stroke="#333" stroke-width="1" />
<text x="42.4" y="576.1" font-size="13" text-anchor="end" fill="#4d4d4d" stroke="#4d4d4d" stroke-width="0.3">0.0</text>
<line x1="45.3" y1="631" x2="48.8" y2="631" stroke="#333" stroke-width="1" />
<text x="42.4" y="635.6" font-size="13" text-anchor="end" fill="#4d4d4d" stroke="#4d4d4d" stroke-width="0.3">−0.5</text>
<text transform="translate(13 548.5) rotate(-90)" font-size="17.7" text-anchor="middle" stroke="#000" stroke-width="0.3">Mean log2 ratio</text>
<text x="100.3" y="646.6" font-size="11.6" text-anchor="middle" fill="#1a1a1a" stroke="#1a1a1a" stroke-width="0.3">1</text>
<text x="153.8" y="646.6" font-size="11.6" text-anchor="middle" fill="#1a1a1a" stroke="#1a1a1a" stroke-width="0.3">2</text>
<text x="197" y="646.6" font-size="11.6" text-anchor="middle" fill="#1a1a1a" stroke="#1a1a1a" stroke-width="0.3">3</text>
<text x="235.9" y="646.6" font-size="11.6" text-anchor="middle" fill="#1a1a1a" stroke="#1a1a1a" stroke-width="0.3">4</text>
<text x="274" y="646.6" font-size="11.6" text-anchor="middle" fill="#1a1a1a" stroke="#1a1a1a" stroke-width="0.3">5</text>
<text x="308.6" y="646.6" font-size="11.6" text-anchor="middle" fill="#1a1a1a" stroke="#1a1a1a" stroke-width="0.3">6</text>
<text x="341.9" y="646.6" font-size="11.6" text-anchor="middle" fill="#1a1a1a" stroke="#1a1a1a" stroke-width="0.3">7</text>
<text x="372.4" y="646.6" font-size="11.6" text-anchor="middle" fill="#1a1a1a" stroke="#1a1a1a" stroke-width="0.3">8</text>
<text x="400.5" y="646.6" font-size="11.6" text-anchor="middle" fill="#1a1a1a" stroke="#1a1a1a" stroke-width="0.3">9</text>
<text x="427.6" y="646.6" font-size="11.6" text-anchor="middle" fill="#1a1a1a" stroke="#1a1a1a" stroke-width="0.3">10</text>
<text x="455.4" y="646.6" font-size="11.6" text-anchor="middle" fill="#1a1a1a" stroke="#1a1a1a" stroke-width="0.3">11</text>
<text x="481.1" y="646.6" font-size="11.6" text-anchor="middle" fill="#1a1a1a" stroke="#1a1a1a" stroke-width="0.3">12</text>
<text x="506.9" y="646.6" font-size="11.6" text-anchor="middle" fill="#1a1a1a" stroke="#1a1a1a" stroke-width="0.3">13</text>
<text x="528.5" y="646.6" font-size="11.6" text-anchor="middle" fill="#1a1a1a" stroke="#1a1a1a" stroke-width="0.3">14</text>
<text x="549.5" y="646.6" font-size="11.6" text-anchor="middle" fill="#1a1a1a" stroke="#1a1a1a" stroke-width="0.3">15</text>
<text x="569.6" y="646.6" font-size="11.6" text-anchor="middle" fill="#1a1a1a" stroke="#1a1a1a" stroke-width="0.3">16</text>
<text x="585.7" y="646.6" font-size="11.6" text-anchor="middle" fill="#1a1a1a" stroke="#1a1a1a" stroke-width="0.3">17</text>
<text x="648.9" y="646.6" font-size="11.6" text-anchor="middle" fill="#1a1a1a" stroke="#1a1a1a" stroke-width="0.3">22</text>
<text x="330.9" y="673.6" font-size="18" stroke="#000" stroke-width="0.3">Chromosome</text>
<text x="666.3" y="447.5" font-size="13.4" stroke="#000" stroke-width="0.3">Selection</text>
<text x="666.3" y="463.8" font-size="13.4" stroke="#000" stroke-width="0.3">bin</text>
<rect x="670.3" y="478.5" width="15.5" height="18.2" fill="#3fb63c" />
<text x="695.6" y="492.8" font-size="13.4" stroke="#000" stroke-width="0.3">G</text>
<rect x="670.3" y="505.3" width="15.5" height="18.1" fill="#d6284b" />
<text x="695.6" y="519" font-size="13.4" stroke="#000" stroke-width="0.3">M</text>
<rect x="670.3" y="532" width="15.5" height="18.5" fill="#f5a04b" />
<text x="695.6" y="545.7" font-size="13.4" stroke="#000" stroke-width="0.3">No selection</text>
<rect x="670.3" y="560.3" width="15.5" height="18.3" fill="#4a86c6" />
<text x="695.6" y="573.3" font-size="13.4" stroke="#000" stroke-width="0.3">L</text>
</svg>
</body></html>
